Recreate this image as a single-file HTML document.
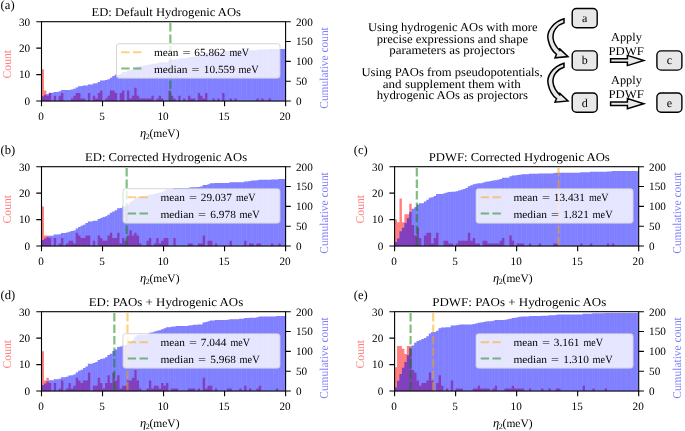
<!DOCTYPE html>
<html><head><meta charset="utf-8"><title>figure</title>
<style>
html,body{margin:0;padding:0;background:#fff;}
body{width:685px;height:431px;overflow:hidden;}
svg{display:block;font-family:"Liberation Serif",serif;text-rendering:geometricPrecision;will-change:transform;}
</style></head><body>
<svg width="685" height="431" viewBox="0 0 685 431">
<rect width="685" height="431" fill="#fff"/>
<g id="p0">
<clipPath id="cl0"><rect x="41.5" y="21.7" width="244.1" height="79.35"/></clipPath>
<g clip-path="url(#cl0)">
<path d="M41.5,101.05L41.5,69.31L43.94,69.31L43.94,90.47L46.38,90.47L46.38,95.76L48.82,95.76L48.82,93.11L51.26,93.11L51.26,101.05L53.7,101.05L53.7,95.76L56.15,95.76L56.15,101.05L58.59,101.05L58.59,95.76L61.03,95.76L61.03,93.11L63.47,93.11L63.47,101.05L65.91,101.05L65.91,101.05L68.35,101.05L68.35,101.05L70.79,101.05L70.79,98.41L73.23,98.41L73.23,95.76L75.67,95.76L75.67,93.11L78.12,93.11L78.11,93.11L80.56,93.11L80.56,98.41L83,98.41L83,98.41L85.44,98.41L85.44,101.05L87.88,101.05L87.88,93.11L90.32,93.11L90.32,101.05L92.76,101.05L92.76,95.76L95.2,95.76L95.2,98.41L97.64,98.41L97.64,93.11L100.08,93.11L100.08,90.47L102.53,90.47L102.53,101.05L104.97,101.05L104.97,98.41L107.41,98.41L107.41,95.76L109.85,95.76L109.85,90.47L112.29,90.47L112.29,90.47L114.73,90.47L114.73,93.11L117.17,93.11L117.17,101.05L119.61,101.05L119.61,93.11L122.05,93.11L122.05,90.47L124.49,90.47L124.49,101.05L126.94,101.05L126.93,90.47L129.38,90.47L129.38,98.41L131.82,98.41L131.82,95.76L134.26,95.76L134.26,87.83L136.7,87.83L136.7,95.76L139.14,95.76L139.14,98.41L141.58,98.41L141.58,98.41L144.02,98.41L144.02,98.41L146.46,98.41L146.46,98.41L148.9,98.41L148.9,98.41L151.34,98.41L151.34,95.76L153.79,95.76L153.79,101.05L156.23,101.05L156.23,98.41L158.67,98.41L158.67,95.76L161.11,95.76L161.11,98.41L163.55,98.41L163.55,101.05L165.99,101.05L165.99,101.05L168.43,101.05L168.43,90.47L170.87,90.47L170.87,95.76L173.31,95.76L173.31,98.41L175.75,98.41L175.75,101.05L178.2,101.05L178.2,95.76L180.64,95.76L180.64,101.05L183.08,101.05L183.08,98.41L185.52,98.41L185.52,101.05L187.96,101.05L187.96,95.76L190.4,95.76L190.4,98.41L192.84,98.41L192.84,98.41L195.28,98.41L195.28,101.05L197.72,101.05L197.72,93.11L200.16,93.11L200.16,95.76L202.61,95.76L202.61,98.41L205.05,98.41L205.05,93.11L207.49,93.11L207.49,101.05L209.93,101.05L209.93,101.05L212.37,101.05L212.37,98.41L214.81,98.41L214.81,101.05L217.25,101.05L217.25,98.41L219.69,98.41L219.69,101.05L222.13,101.05L222.13,93.11L224.57,93.11L224.57,101.05L227.02,101.05L227.02,101.05L229.46,101.05L229.46,98.41L231.9,98.41L231.9,101.05L234.34,101.05L234.34,98.41L236.78,98.41L236.78,101.05L239.22,101.05L239.22,101.05L241.66,101.05L241.66,101.05L244.1,101.05L244.1,101.05L246.54,101.05L246.54,101.05L248.98,101.05L248.98,101.05L251.43,101.05L251.43,101.05L253.87,101.05L253.87,101.05L256.31,101.05L256.31,98.41L258.75,98.41L258.75,101.05L261.19,101.05L261.19,98.41L263.63,98.41L263.63,101.05L266.07,101.05L266.07,101.05L268.51,101.05L268.51,98.41L270.95,98.41L270.95,101.05L273.39,101.05L273.39,101.05L275.84,101.05L275.84,101.05L278.28,101.05L278.28,101.05L280.72,101.05L280.72,101.05L283.16,101.05L283.16,101.05L285.6,101.05L285.6,101.05Z" fill="#f00" fill-opacity="0.5"/>
<path d="M41.5,101.05L41.5,96.29L43.94,96.29L43.94,94.7L46.38,94.7L46.38,93.91L48.82,93.91L48.82,92.72L51.26,92.72L51.26,92.72L53.7,92.72L53.7,91.92L56.15,91.92L56.15,91.92L58.59,91.92L58.59,91.13L61.03,91.13L61.03,89.94L63.47,89.94L63.47,89.94L65.91,89.94L65.91,89.94L68.35,89.94L68.35,89.94L70.79,89.94L70.79,89.54L73.23,89.54L73.23,88.75L75.67,88.75L75.67,87.56L78.12,87.56L78.11,86.37L80.56,86.37L80.56,85.97L83,85.97L83,85.58L85.44,85.58L85.44,85.58L87.88,85.58L87.88,84.39L90.32,84.39L90.32,84.39L92.76,84.39L92.76,83.59L95.2,83.59L95.2,83.2L97.64,83.2L97.64,82.01L100.08,82.01L100.08,80.42L102.53,80.42L102.53,80.42L104.97,80.42L104.97,80.02L107.41,80.02L107.41,79.23L109.85,79.23L109.85,77.64L112.29,77.64L112.29,76.05L114.73,76.05L114.73,74.86L117.17,74.86L117.17,74.86L119.61,74.86L119.61,73.67L122.05,73.67L122.05,72.09L124.49,72.09L124.49,72.09L126.94,72.09L126.93,70.5L129.38,70.5L129.38,70.1L131.82,70.1L131.82,69.31L134.26,69.31L134.26,67.33L136.7,67.33L136.7,66.53L139.14,66.53L139.14,66.14L141.58,66.14L141.58,65.74L144.02,65.74L144.02,65.34L146.46,65.34L146.46,64.95L148.9,64.95L148.9,64.55L151.34,64.55L151.34,63.76L153.79,63.76L153.79,63.76L156.23,63.76L156.23,63.36L158.67,63.36L158.67,62.57L161.11,62.57L161.11,62.17L163.55,62.17L163.55,62.17L165.99,62.17L165.99,62.17L168.43,62.17L168.43,60.58L170.87,60.58L170.87,59.79L173.31,59.79L173.31,59.39L175.75,59.39L175.75,59.39L178.2,59.39L178.2,58.6L180.64,58.6L180.64,58.6L183.08,58.6L183.08,58.2L185.52,58.2L185.52,58.2L187.96,58.2L187.96,57.41L190.4,57.41L190.4,57.01L192.84,57.01L192.84,56.61L195.28,56.61L195.28,56.61L197.72,56.61L197.72,55.42L200.16,55.42L200.16,54.63L202.61,54.63L202.61,54.23L205.05,54.23L205.05,53.04L207.49,53.04L207.49,53.04L209.93,53.04L209.93,53.04L212.37,53.04L212.37,52.65L214.81,52.65L214.81,52.65L217.25,52.65L217.25,52.25L219.69,52.25L219.69,52.25L222.13,52.25L222.13,51.06L224.57,51.06L224.57,51.06L227.02,51.06L227.02,51.06L229.46,51.06L229.46,50.66L231.9,50.66L231.9,50.66L234.34,50.66L234.34,50.27L236.78,50.27L236.78,50.27L239.22,50.27L239.22,50.27L241.66,50.27L241.66,50.27L244.1,50.27L244.1,50.27L246.54,50.27L246.54,50.27L248.98,50.27L248.98,50.27L251.43,50.27L251.43,50.27L253.87,50.27L253.87,50.27L256.31,50.27L256.31,49.87L258.75,49.87L258.75,49.87L261.19,49.87L261.19,49.47L263.63,49.47L263.63,49.47L266.07,49.47L266.07,49.47L268.51,49.47L268.51,49.08L270.95,49.08L270.95,49.08L273.39,49.08L273.39,49.08L275.84,49.08L275.84,49.08L278.28,49.08L278.28,49.08L280.72,49.08L280.72,49.08L283.16,49.08L283.16,49.08L285.6,49.08L285.6,101.05Z" fill="#00f" fill-opacity="0.2308"/>
<g fill="#00f" fill-opacity="0.35"><path d="M41.5,101.05V96.29H43.94V101.05z"/><path d="M43.94,101.05V94.7H46.38V101.05z"/><path d="M46.38,101.05V93.91H48.82V101.05z"/><path d="M48.82,101.05V92.72H51.26V101.05z"/><path d="M51.26,101.05V92.72H53.7V101.05z"/><path d="M53.7,101.05V91.92H56.15V101.05z"/><path d="M56.15,101.05V91.92H58.59V101.05z"/><path d="M58.59,101.05V91.13H61.03V101.05z"/><path d="M61.03,101.05V89.94H63.47V101.05z"/><path d="M63.47,101.05V89.94H65.91V101.05z"/><path d="M65.91,101.05V89.94H68.35V101.05z"/><path d="M68.35,101.05V89.94H70.79V101.05z"/><path d="M70.79,101.05V89.54H73.23V101.05z"/><path d="M73.23,101.05V88.75H75.67V101.05z"/><path d="M75.67,101.05V87.56H78.12V101.05z"/><path d="M78.11,101.05V86.37H80.56V101.05z"/><path d="M80.56,101.05V85.97H83V101.05z"/><path d="M83,101.05V85.58H85.44V101.05z"/><path d="M85.44,101.05V85.58H87.88V101.05z"/><path d="M87.88,101.05V84.39H90.32V101.05z"/><path d="M90.32,101.05V84.39H92.76V101.05z"/><path d="M92.76,101.05V83.59H95.2V101.05z"/><path d="M95.2,101.05V83.2H97.64V101.05z"/><path d="M97.64,101.05V82.01H100.08V101.05z"/><path d="M100.08,101.05V80.42H102.53V101.05z"/><path d="M102.53,101.05V80.42H104.97V101.05z"/><path d="M104.97,101.05V80.02H107.41V101.05z"/><path d="M107.41,101.05V79.23H109.85V101.05z"/><path d="M109.85,101.05V77.64H112.29V101.05z"/><path d="M112.29,101.05V76.05H114.73V101.05z"/><path d="M114.73,101.05V74.86H117.17V101.05z"/><path d="M117.17,101.05V74.86H119.61V101.05z"/><path d="M119.61,101.05V73.67H122.05V101.05z"/><path d="M122.05,101.05V72.09H124.49V101.05z"/><path d="M124.49,101.05V72.09H126.94V101.05z"/><path d="M126.93,101.05V70.5H129.38V101.05z"/><path d="M129.38,101.05V70.1H131.82V101.05z"/><path d="M131.82,101.05V69.31H134.26V101.05z"/><path d="M134.26,101.05V67.33H136.7V101.05z"/><path d="M136.7,101.05V66.53H139.14V101.05z"/><path d="M139.14,101.05V66.14H141.58V101.05z"/><path d="M141.58,101.05V65.74H144.02V101.05z"/><path d="M144.02,101.05V65.34H146.46V101.05z"/><path d="M146.46,101.05V64.95H148.9V101.05z"/><path d="M148.9,101.05V64.55H151.34V101.05z"/><path d="M151.34,101.05V63.76H153.79V101.05z"/><path d="M153.79,101.05V63.76H156.23V101.05z"/><path d="M156.23,101.05V63.36H158.67V101.05z"/><path d="M158.67,101.05V62.57H161.11V101.05z"/><path d="M161.11,101.05V62.17H163.55V101.05z"/><path d="M163.55,101.05V62.17H165.99V101.05z"/><path d="M165.99,101.05V62.17H168.43V101.05z"/><path d="M168.43,101.05V60.58H170.87V101.05z"/><path d="M170.87,101.05V59.79H173.31V101.05z"/><path d="M173.31,101.05V59.39H175.75V101.05z"/><path d="M175.75,101.05V59.39H178.2V101.05z"/><path d="M178.2,101.05V58.6H180.64V101.05z"/><path d="M180.64,101.05V58.6H183.08V101.05z"/><path d="M183.08,101.05V58.2H185.52V101.05z"/><path d="M185.52,101.05V58.2H187.96V101.05z"/><path d="M187.96,101.05V57.41H190.4V101.05z"/><path d="M190.4,101.05V57.01H192.84V101.05z"/><path d="M192.84,101.05V56.61H195.28V101.05z"/><path d="M195.28,101.05V56.61H197.72V101.05z"/><path d="M197.72,101.05V55.42H200.16V101.05z"/><path d="M200.16,101.05V54.63H202.61V101.05z"/><path d="M202.61,101.05V54.23H205.05V101.05z"/><path d="M205.05,101.05V53.04H207.49V101.05z"/><path d="M207.49,101.05V53.04H209.93V101.05z"/><path d="M209.93,101.05V53.04H212.37V101.05z"/><path d="M212.37,101.05V52.65H214.81V101.05z"/><path d="M214.81,101.05V52.65H217.25V101.05z"/><path d="M217.25,101.05V52.25H219.69V101.05z"/><path d="M219.69,101.05V52.25H222.13V101.05z"/><path d="M222.13,101.05V51.06H224.57V101.05z"/><path d="M224.57,101.05V51.06H227.02V101.05z"/><path d="M227.02,101.05V51.06H229.46V101.05z"/><path d="M229.46,101.05V50.66H231.9V101.05z"/><path d="M231.9,101.05V50.66H234.34V101.05z"/><path d="M234.34,101.05V50.27H236.78V101.05z"/><path d="M236.78,101.05V50.27H239.22V101.05z"/><path d="M239.22,101.05V50.27H241.66V101.05z"/><path d="M241.66,101.05V50.27H244.1V101.05z"/><path d="M244.1,101.05V50.27H246.54V101.05z"/><path d="M246.54,101.05V50.27H248.98V101.05z"/><path d="M248.98,101.05V50.27H251.43V101.05z"/><path d="M251.43,101.05V50.27H253.87V101.05z"/><path d="M253.87,101.05V50.27H256.31V101.05z"/><path d="M256.31,101.05V49.87H258.75V101.05z"/><path d="M258.75,101.05V49.87H261.19V101.05z"/><path d="M261.19,101.05V49.47H263.63V101.05z"/><path d="M263.63,101.05V49.47H266.07V101.05z"/><path d="M266.07,101.05V49.47H268.51V101.05z"/><path d="M268.51,101.05V49.08H270.95V101.05z"/><path d="M270.95,101.05V49.08H273.39V101.05z"/><path d="M273.39,101.05V49.08H275.84V101.05z"/><path d="M275.84,101.05V49.08H278.28V101.05z"/><path d="M278.28,101.05V49.08H280.72V101.05z"/><path d="M280.72,101.05V49.08H283.16V101.05z"/><path d="M283.16,101.05V49.08H285.6V101.05z"/></g>
<line x1="170.37" y1="101.05" x2="170.37" y2="21.7" stroke="#008000" stroke-opacity="0.5" stroke-width="2.2" stroke-dasharray="8.5 3" stroke-dashoffset="-0.6"/>
</g>
<rect x="41.5" y="21.7" width="244.1" height="79.35" fill="none" stroke="#000" stroke-width="1.1"/>
<text x="30.2" y="104.85" font-size="11.2" text-anchor="end" fill="#000">0</text>
<text x="30.2" y="78.4" font-size="11.2" text-anchor="end" fill="#000">10</text>
<text x="30.2" y="51.95" font-size="11.2" text-anchor="end" fill="#000">20</text>
<text x="30.2" y="25.5" font-size="11.2" text-anchor="end" fill="#000">30</text>
<text x="296" y="104.85" font-size="11.2" fill="#000">0</text>
<text x="296" y="85.01" font-size="11.2" fill="#000">50</text>
<text x="296" y="65.17" font-size="11.2" fill="#000">100</text>
<text x="296" y="45.34" font-size="11.2" fill="#000">150</text>
<text x="296" y="25.5" font-size="11.2" fill="#000">200</text>
<text x="41" y="119.75" font-size="11.2" text-anchor="middle" fill="#000">0</text>
<text x="102.03" y="119.75" font-size="11.2" text-anchor="middle" fill="#000">5</text>
<text x="163.05" y="119.75" font-size="11.2" text-anchor="middle" fill="#000">10</text>
<text x="224.07" y="119.75" font-size="11.2" text-anchor="middle" fill="#000">15</text>
<text x="285.1" y="119.75" font-size="11.2" text-anchor="middle" fill="#000">20</text>
<path d="M41.5,101.05h-5.2M41.5,74.6h-5.2M41.5,48.15h-5.2M41.5,21.7h-5.2M285.6,101.05h5.2M285.6,81.21h5.2M285.6,61.38h5.2M285.6,41.54h5.2M285.6,21.7h5.2M41.5,101.05v5.2M102.53,101.05v5.2M163.55,101.05v5.2M224.57,101.05v5.2M285.6,101.05v5.2" stroke="#000" stroke-width="1.1" fill="none"/>
<text x="91.5" y="16.3" font-size="12" textLength="149.5" lengthAdjust="spacingAndGlyphs" fill="#000">ED: Default Hydrogenic AOs</text>
<text x="0.6" y="8.9" font-size="12.6" fill="#000">(a)</text>
<text x="139.95" y="136.95" font-size="11.5"><tspan font-style="italic" font-size="12.5">η</tspan><tspan font-size="8" dy="1.6" dx="-0.4">2</tspan><tspan dy="-1.6" dx="-0.3">(meV)</tspan></text>
<text transform="translate(10.7,64.15) rotate(-90)" font-size="12" text-anchor="middle" fill="#ff8080" textLength="28.5" lengthAdjust="spacingAndGlyphs">Count</text>
<text transform="translate(328.2,67.95) rotate(-90)" font-size="12" text-anchor="middle" fill="#8080ff" textLength="81.5" lengthAdjust="spacingAndGlyphs">Cumulative count</text>
<rect x="116.5" y="43.7" width="163.5" height="34.5" rx="2.4" fill="#fff" fill-opacity="0.8" stroke="#ccc" stroke-opacity="0.8" stroke-width="1"/>
<line x1="121.2" y1="52.15" x2="144.8" y2="52.15" stroke="#ffa500" stroke-opacity="0.5" stroke-width="2" stroke-dasharray="8.4 3.4"/>
<line x1="121.2" y1="68.4" x2="144.8" y2="68.4" stroke="#008000" stroke-opacity="0.5" stroke-width="2" stroke-dasharray="8.4 3.4"/>
<text x="153.9" y="56.4" font-size="11" textLength="24.5" lengthAdjust="spacingAndGlyphs" fill="#000">mean</text>
<text x="182.4" y="56.4" font-size="11" textLength="8" lengthAdjust="spacingAndGlyphs" fill="#000">=</text>
<text x="194.3" y="56.4" font-size="11" textLength="31" lengthAdjust="spacingAndGlyphs" fill="#000">65.862</text>
<text x="229.5" y="56.4" font-size="11" textLength="19.5" lengthAdjust="spacingAndGlyphs" fill="#000">meV</text>
<text x="153.9" y="72.7" font-size="11" textLength="33.7" lengthAdjust="spacingAndGlyphs" fill="#000">median</text>
<text x="191.4" y="72.7" font-size="11" textLength="8" lengthAdjust="spacingAndGlyphs" fill="#000">=</text>
<text x="203.8" y="72.7" font-size="11" textLength="31" lengthAdjust="spacingAndGlyphs" fill="#000">10.559</text>
<text x="238.6" y="72.7" font-size="11" textLength="20" lengthAdjust="spacingAndGlyphs" fill="#000">meV</text>
</g>
<g id="p1">
<clipPath id="cl1"><rect x="41.5" y="166.7" width="244.1" height="79.35"/></clipPath>
<g clip-path="url(#cl1)">
<path d="M41.5,246.05L41.5,206.38L43.94,206.38L43.94,235.47L46.38,235.47L46.38,235.47L48.82,235.47L48.82,238.11L51.26,238.11L51.26,246.05L53.7,246.05L53.7,238.11L56.15,238.11L56.15,246.05L58.59,246.05L58.59,243.4L61.03,243.4L61.03,238.11L63.47,238.11L63.47,246.05L65.91,246.05L65.91,243.4L68.35,243.4L68.35,240.76L70.79,240.76L70.79,240.76L73.23,240.76L73.23,243.4L75.67,243.4L75.67,232.82L78.12,232.82L78.11,235.47L80.56,235.47L80.56,238.11L83,238.11L83,238.11L85.44,238.11L85.44,235.47L87.88,235.47L87.88,235.47L90.32,235.47L90.32,246.05L92.76,246.05L92.76,240.76L95.2,240.76L95.2,246.05L97.64,246.05L97.64,235.47L100.08,235.47L100.08,238.11L102.53,238.11L102.53,240.76L104.97,240.76L104.97,240.76L107.41,240.76L107.41,235.47L109.85,235.47L109.85,232.82L112.29,232.82L112.29,238.11L114.73,238.11L114.73,238.11L117.17,238.11L117.17,232.82L119.61,232.82L119.61,243.4L122.05,243.4L122.05,238.11L124.49,238.11L124.49,240.76L126.94,240.76L126.93,235.47L129.38,235.47L129.38,230.18L131.82,230.18L131.82,235.47L134.26,235.47L134.26,232.82L136.7,232.82L136.7,235.47L139.14,235.47L139.14,243.4L141.58,243.4L141.58,246.05L144.02,246.05L144.02,246.05L146.46,246.05L146.46,240.76L148.9,240.76L148.9,238.11L151.34,238.11L151.34,246.05L153.79,246.05L153.79,243.4L156.23,243.4L156.23,238.11L158.67,238.11L158.67,243.4L161.11,243.4L161.11,240.76L163.55,240.76L163.55,238.11L165.99,238.11L165.99,238.11L168.43,238.11L168.43,246.05L170.87,246.05L170.87,246.05L173.31,246.05L173.31,238.11L175.75,238.11L175.75,246.05L178.2,246.05L178.2,246.05L180.64,246.05L180.64,246.05L183.08,246.05L183.08,246.05L185.52,246.05L185.52,246.05L187.96,246.05L187.96,243.4L190.4,243.4L190.4,243.4L192.84,243.4L192.84,246.05L195.28,246.05L195.28,246.05L197.72,246.05L197.72,243.4L200.16,243.4L200.16,243.4L202.61,243.4L202.61,235.47L205.05,235.47L205.05,246.05L207.49,246.05L207.49,240.76L209.93,240.76L209.93,240.76L212.37,240.76L212.37,246.05L214.81,246.05L214.81,243.4L217.25,243.4L217.25,246.05L219.69,246.05L219.69,246.05L222.13,246.05L222.13,246.05L224.57,246.05L224.57,246.05L227.02,246.05L227.02,246.05L229.46,246.05L229.46,240.76L231.9,240.76L231.9,246.05L234.34,246.05L234.34,246.05L236.78,246.05L236.78,246.05L239.22,246.05L239.22,246.05L241.66,246.05L241.66,246.05L244.1,246.05L244.1,240.76L246.54,240.76L246.54,246.05L248.98,246.05L248.98,243.4L251.43,243.4L251.43,243.4L253.87,243.4L253.87,246.05L256.31,246.05L256.31,243.4L258.75,243.4L258.75,243.4L261.19,243.4L261.19,246.05L263.63,246.05L263.63,246.05L266.07,246.05L266.07,246.05L268.51,246.05L268.51,246.05L270.95,246.05L270.95,243.4L273.39,243.4L273.39,246.05L275.84,246.05L275.84,246.05L278.28,246.05L278.28,243.4L280.72,243.4L280.72,246.05L283.16,246.05L283.16,246.05L285.6,246.05L285.6,246.05Z" fill="#f00" fill-opacity="0.5"/>
<path d="M41.5,246.05L41.5,240.1L43.94,240.1L43.94,238.51L46.38,238.51L46.38,236.92L48.82,236.92L48.82,235.73L51.26,235.73L51.26,235.73L53.7,235.73L53.7,234.54L56.15,234.54L56.15,234.54L58.59,234.54L58.59,234.15L61.03,234.15L61.03,232.96L63.47,232.96L63.47,232.96L65.91,232.96L65.91,232.56L68.35,232.56L68.35,231.77L70.79,231.77L70.79,230.97L73.23,230.97L73.23,230.58L75.67,230.58L75.67,228.59L78.12,228.59L78.11,227.01L80.56,227.01L80.56,225.82L83,225.82L83,224.63L85.44,224.63L85.44,223.04L87.88,223.04L87.88,221.45L90.32,221.45L90.32,221.45L92.76,221.45L92.76,220.66L95.2,220.66L95.2,220.66L97.64,220.66L97.64,219.07L100.08,219.07L100.08,217.88L102.53,217.88L102.53,217.09L104.97,217.09L104.97,216.29L107.41,216.29L107.41,214.71L109.85,214.71L109.85,212.72L112.29,212.72L112.29,211.53L114.73,211.53L114.73,210.34L117.17,210.34L117.17,208.36L119.61,208.36L119.61,207.96L122.05,207.96L122.05,206.77L124.49,206.77L124.49,205.98L126.94,205.98L126.93,204.39L129.38,204.39L129.38,202.01L131.82,202.01L131.82,200.42L134.26,200.42L134.26,198.44L136.7,198.44L136.7,196.85L139.14,196.85L139.14,196.46L141.58,196.46L141.58,196.46L144.02,196.46L144.02,196.46L146.46,196.46L146.46,195.66L148.9,195.66L148.9,194.47L151.34,194.47L151.34,194.47L153.79,194.47L153.79,194.08L156.23,194.08L156.23,192.89L158.67,192.89L158.67,192.49L161.11,192.49L161.11,191.7L163.55,191.7L163.55,190.5L165.99,190.5L165.99,189.31L168.43,189.31L168.43,189.31L170.87,189.31L170.87,189.31L173.31,189.31L173.31,188.12L175.75,188.12L175.75,188.12L178.2,188.12L178.2,188.12L180.64,188.12L180.64,188.12L183.08,188.12L183.08,188.12L185.52,188.12L185.52,188.12L187.96,188.12L187.96,187.73L190.4,187.73L190.4,187.33L192.84,187.33L192.84,187.33L195.28,187.33L195.28,187.33L197.72,187.33L197.72,186.93L200.16,186.93L200.16,186.54L202.61,186.54L202.61,184.95L205.05,184.95L205.05,184.95L207.49,184.95L207.49,184.16L209.93,184.16L209.93,183.36L212.37,183.36L212.37,183.36L214.81,183.36L214.81,182.97L217.25,182.97L217.25,182.97L219.69,182.97L219.69,182.97L222.13,182.97L222.13,182.97L224.57,182.97L224.57,182.97L227.02,182.97L227.02,182.97L229.46,182.97L229.46,182.17L231.9,182.17L231.9,182.17L234.34,182.17L234.34,182.17L236.78,182.17L236.78,182.17L239.22,182.17L239.22,182.17L241.66,182.17L241.66,182.17L244.1,182.17L244.1,181.38L246.54,181.38L246.54,181.38L248.98,181.38L248.98,180.98L251.43,180.98L251.43,180.59L253.87,180.59L253.87,180.59L256.31,180.59L256.31,180.19L258.75,180.19L258.75,179.79L261.19,179.79L261.19,179.79L263.63,179.79L263.63,179.79L266.07,179.79L266.07,179.79L268.51,179.79L268.51,179.79L270.95,179.79L270.95,179.4L273.39,179.4L273.39,179.4L275.84,179.4L275.84,179.4L278.28,179.4L278.28,179L280.72,179L280.72,179L283.16,179L283.16,179L285.6,179L285.6,246.05Z" fill="#00f" fill-opacity="0.2308"/>
<g fill="#00f" fill-opacity="0.35"><path d="M41.5,246.05V240.1H43.94V246.05z"/><path d="M43.94,246.05V238.51H46.38V246.05z"/><path d="M46.38,246.05V236.92H48.82V246.05z"/><path d="M48.82,246.05V235.73H51.26V246.05z"/><path d="M51.26,246.05V235.73H53.7V246.05z"/><path d="M53.7,246.05V234.54H56.15V246.05z"/><path d="M56.15,246.05V234.54H58.59V246.05z"/><path d="M58.59,246.05V234.15H61.03V246.05z"/><path d="M61.03,246.05V232.96H63.47V246.05z"/><path d="M63.47,246.05V232.96H65.91V246.05z"/><path d="M65.91,246.05V232.56H68.35V246.05z"/><path d="M68.35,246.05V231.77H70.79V246.05z"/><path d="M70.79,246.05V230.97H73.23V246.05z"/><path d="M73.23,246.05V230.58H75.67V246.05z"/><path d="M75.67,246.05V228.59H78.12V246.05z"/><path d="M78.11,246.05V227.01H80.56V246.05z"/><path d="M80.56,246.05V225.82H83V246.05z"/><path d="M83,246.05V224.63H85.44V246.05z"/><path d="M85.44,246.05V223.04H87.88V246.05z"/><path d="M87.88,246.05V221.45H90.32V246.05z"/><path d="M90.32,246.05V221.45H92.76V246.05z"/><path d="M92.76,246.05V220.66H95.2V246.05z"/><path d="M95.2,246.05V220.66H97.64V246.05z"/><path d="M97.64,246.05V219.07H100.08V246.05z"/><path d="M100.08,246.05V217.88H102.53V246.05z"/><path d="M102.53,246.05V217.09H104.97V246.05z"/><path d="M104.97,246.05V216.29H107.41V246.05z"/><path d="M107.41,246.05V214.71H109.85V246.05z"/><path d="M109.85,246.05V212.72H112.29V246.05z"/><path d="M112.29,246.05V211.53H114.73V246.05z"/><path d="M114.73,246.05V210.34H117.17V246.05z"/><path d="M117.17,246.05V208.36H119.61V246.05z"/><path d="M119.61,246.05V207.96H122.05V246.05z"/><path d="M122.05,246.05V206.77H124.49V246.05z"/><path d="M124.49,246.05V205.98H126.94V246.05z"/><path d="M126.93,246.05V204.39H129.38V246.05z"/><path d="M129.38,246.05V202.01H131.82V246.05z"/><path d="M131.82,246.05V200.42H134.26V246.05z"/><path d="M134.26,246.05V198.44H136.7V246.05z"/><path d="M136.7,246.05V196.85H139.14V246.05z"/><path d="M139.14,246.05V196.46H141.58V246.05z"/><path d="M141.58,246.05V196.46H144.02V246.05z"/><path d="M144.02,246.05V196.46H146.46V246.05z"/><path d="M146.46,246.05V195.66H148.9V246.05z"/><path d="M148.9,246.05V194.47H151.34V246.05z"/><path d="M151.34,246.05V194.47H153.79V246.05z"/><path d="M153.79,246.05V194.08H156.23V246.05z"/><path d="M156.23,246.05V192.89H158.67V246.05z"/><path d="M158.67,246.05V192.49H161.11V246.05z"/><path d="M161.11,246.05V191.7H163.55V246.05z"/><path d="M163.55,246.05V190.5H165.99V246.05z"/><path d="M165.99,246.05V189.31H168.43V246.05z"/><path d="M168.43,246.05V189.31H170.87V246.05z"/><path d="M170.87,246.05V189.31H173.31V246.05z"/><path d="M173.31,246.05V188.12H175.75V246.05z"/><path d="M175.75,246.05V188.12H178.2V246.05z"/><path d="M178.2,246.05V188.12H180.64V246.05z"/><path d="M180.64,246.05V188.12H183.08V246.05z"/><path d="M183.08,246.05V188.12H185.52V246.05z"/><path d="M185.52,246.05V188.12H187.96V246.05z"/><path d="M187.96,246.05V187.73H190.4V246.05z"/><path d="M190.4,246.05V187.33H192.84V246.05z"/><path d="M192.84,246.05V187.33H195.28V246.05z"/><path d="M195.28,246.05V187.33H197.72V246.05z"/><path d="M197.72,246.05V186.93H200.16V246.05z"/><path d="M200.16,246.05V186.54H202.61V246.05z"/><path d="M202.61,246.05V184.95H205.05V246.05z"/><path d="M205.05,246.05V184.95H207.49V246.05z"/><path d="M207.49,246.05V184.16H209.93V246.05z"/><path d="M209.93,246.05V183.36H212.37V246.05z"/><path d="M212.37,246.05V183.36H214.81V246.05z"/><path d="M214.81,246.05V182.97H217.25V246.05z"/><path d="M217.25,246.05V182.97H219.69V246.05z"/><path d="M219.69,246.05V182.97H222.13V246.05z"/><path d="M222.13,246.05V182.97H224.57V246.05z"/><path d="M224.57,246.05V182.97H227.02V246.05z"/><path d="M227.02,246.05V182.97H229.46V246.05z"/><path d="M229.46,246.05V182.17H231.9V246.05z"/><path d="M231.9,246.05V182.17H234.34V246.05z"/><path d="M234.34,246.05V182.17H236.78V246.05z"/><path d="M236.78,246.05V182.17H239.22V246.05z"/><path d="M239.22,246.05V182.17H241.66V246.05z"/><path d="M241.66,246.05V182.17H244.1V246.05z"/><path d="M244.1,246.05V181.38H246.54V246.05z"/><path d="M246.54,246.05V181.38H248.98V246.05z"/><path d="M248.98,246.05V180.98H251.43V246.05z"/><path d="M251.43,246.05V180.59H253.87V246.05z"/><path d="M253.87,246.05V180.59H256.31V246.05z"/><path d="M256.31,246.05V180.19H258.75V246.05z"/><path d="M258.75,246.05V179.79H261.19V246.05z"/><path d="M261.19,246.05V179.79H263.63V246.05z"/><path d="M263.63,246.05V179.79H266.07V246.05z"/><path d="M266.07,246.05V179.79H268.51V246.05z"/><path d="M268.51,246.05V179.79H270.95V246.05z"/><path d="M270.95,246.05V179.4H273.39V246.05z"/><path d="M273.39,246.05V179.4H275.84V246.05z"/><path d="M275.84,246.05V179.4H278.28V246.05z"/><path d="M278.28,246.05V179H280.72V246.05z"/><path d="M280.72,246.05V179H283.16V246.05z"/><path d="M283.16,246.05V179H285.6V246.05z"/></g>
<line x1="126.67" y1="246.05" x2="126.67" y2="166.7" stroke="#008000" stroke-opacity="0.5" stroke-width="2.2" stroke-dasharray="8.5 3" stroke-dashoffset="-0.6"/>
</g>
<rect x="41.5" y="166.7" width="244.1" height="79.35" fill="none" stroke="#000" stroke-width="1.1"/>
<text x="30.2" y="249.85" font-size="11.2" text-anchor="end" fill="#000">0</text>
<text x="30.2" y="223.4" font-size="11.2" text-anchor="end" fill="#000">10</text>
<text x="30.2" y="196.95" font-size="11.2" text-anchor="end" fill="#000">20</text>
<text x="30.2" y="170.5" font-size="11.2" text-anchor="end" fill="#000">30</text>
<text x="296" y="249.85" font-size="11.2" fill="#000">0</text>
<text x="296" y="230.01" font-size="11.2" fill="#000">50</text>
<text x="296" y="210.18" font-size="11.2" fill="#000">100</text>
<text x="296" y="190.34" font-size="11.2" fill="#000">150</text>
<text x="296" y="170.5" font-size="11.2" fill="#000">200</text>
<text x="41" y="264.75" font-size="11.2" text-anchor="middle" fill="#000">0</text>
<text x="102.03" y="264.75" font-size="11.2" text-anchor="middle" fill="#000">5</text>
<text x="163.05" y="264.75" font-size="11.2" text-anchor="middle" fill="#000">10</text>
<text x="224.07" y="264.75" font-size="11.2" text-anchor="middle" fill="#000">15</text>
<text x="285.1" y="264.75" font-size="11.2" text-anchor="middle" fill="#000">20</text>
<path d="M41.5,246.05h-5.2M41.5,219.6h-5.2M41.5,193.15h-5.2M41.5,166.7h-5.2M285.6,246.05h5.2M285.6,226.21h5.2M285.6,206.38h5.2M285.6,186.54h5.2M285.6,166.7h5.2M41.5,246.05v5.2M102.53,246.05v5.2M163.55,246.05v5.2M224.57,246.05v5.2M285.6,246.05v5.2" stroke="#000" stroke-width="1.1" fill="none"/>
<text x="85" y="161.3" font-size="12" textLength="162.1" lengthAdjust="spacingAndGlyphs" fill="#000">ED: Corrected Hydrogenic AOs</text>
<text x="0.6" y="153.9" font-size="12.6" fill="#000">(b)</text>
<text x="139.95" y="281.95" font-size="11.5"><tspan font-style="italic" font-size="12.5">η</tspan><tspan font-size="8" dy="1.6" dx="-0.4">2</tspan><tspan dy="-1.6" dx="-0.3">(meV)</tspan></text>
<text transform="translate(10.7,209.15) rotate(-90)" font-size="12" text-anchor="middle" fill="#ff8080" textLength="28.5" lengthAdjust="spacingAndGlyphs">Count</text>
<text transform="translate(328.2,212.95) rotate(-90)" font-size="12" text-anchor="middle" fill="#8080ff" textLength="81.5" lengthAdjust="spacingAndGlyphs">Cumulative count</text>
<rect x="123" y="188.7" width="157" height="34.5" rx="2.4" fill="#fff" fill-opacity="0.8" stroke="#ccc" stroke-opacity="0.8" stroke-width="1"/>
<line x1="127.7" y1="197.15" x2="151.3" y2="197.15" stroke="#ffa500" stroke-opacity="0.5" stroke-width="2" stroke-dasharray="8.4 3.4"/>
<line x1="127.7" y1="213.4" x2="151.3" y2="213.4" stroke="#008000" stroke-opacity="0.5" stroke-width="2" stroke-dasharray="8.4 3.4"/>
<text x="160.4" y="201.4" font-size="11" textLength="24.5" lengthAdjust="spacingAndGlyphs" fill="#000">mean</text>
<text x="188.9" y="201.4" font-size="11" textLength="8" lengthAdjust="spacingAndGlyphs" fill="#000">=</text>
<text x="200.8" y="201.4" font-size="11" textLength="31" lengthAdjust="spacingAndGlyphs" fill="#000">29.037</text>
<text x="236" y="201.4" font-size="11" textLength="19.5" lengthAdjust="spacingAndGlyphs" fill="#000">meV</text>
<text x="160.4" y="217.7" font-size="11" textLength="33.7" lengthAdjust="spacingAndGlyphs" fill="#000">median</text>
<text x="197.9" y="217.7" font-size="11" textLength="8" lengthAdjust="spacingAndGlyphs" fill="#000">=</text>
<text x="210.3" y="217.7" font-size="11" textLength="25.5" lengthAdjust="spacingAndGlyphs" fill="#000">6.978</text>
<text x="239.6" y="217.7" font-size="11" textLength="20" lengthAdjust="spacingAndGlyphs" fill="#000">meV</text>
</g>
<g id="p2">
<clipPath id="cl2"><rect x="394.6" y="166.7" width="244.1" height="79.35"/></clipPath>
<g clip-path="url(#cl2)">
<path d="M394.6,246.05L394.6,219.6L397.04,219.6L397.04,222.24L399.48,222.24L399.48,198.44L401.92,198.44L401.92,222.24L404.36,222.24L404.36,214.31L406.81,214.31L406.81,214.31L409.25,214.31L409.25,203.73L411.69,203.73L411.69,224.89L414.13,224.89L414.13,235.47L416.57,235.47L416.57,227.53L419.01,227.53L419.01,238.11L421.45,238.11L421.45,246.05L423.89,246.05L423.89,235.47L426.33,235.47L426.33,232.82L428.77,232.82L428.77,232.82L431.21,232.82L431.22,243.4L433.66,243.4L433.66,238.11L436.1,238.11L436.1,232.82L438.54,232.82L438.54,246.05L440.98,246.05L440.98,246.05L443.42,246.05L443.42,240.76L445.86,240.76L445.86,240.76L448.3,240.76L448.3,243.4L450.74,243.4L450.74,243.4L453.18,243.4L453.18,246.05L455.62,246.05L455.62,243.4L458.07,243.4L458.07,240.76L460.51,240.76L460.51,240.76L462.95,240.76L462.95,240.76L465.39,240.76L465.39,240.76L467.83,240.76L467.83,232.82L470.27,232.82L470.27,240.76L472.71,240.76L472.71,238.11L475.15,238.11L475.15,243.4L477.59,243.4L477.59,243.4L480.04,243.4L480.04,246.05L482.48,246.05L482.48,240.76L484.92,240.76L484.92,240.76L487.36,240.76L487.36,243.4L489.8,243.4L489.8,243.4L492.24,243.4L492.24,243.4L494.68,243.4L494.68,243.4L497.12,243.4L497.12,243.4L499.56,243.4L499.56,240.76L502,240.76L502,238.11L504.44,238.11L504.45,246.05L506.89,246.05L506.89,246.05L509.33,246.05L509.33,235.47L511.77,235.47L511.77,240.76L514.21,240.76L514.21,246.05L516.65,246.05L516.65,243.4L519.09,243.4L519.09,243.4L521.53,243.4L521.53,243.4L523.97,243.4L523.97,246.05L526.41,246.05L526.41,246.05L528.86,246.05L528.86,243.4L531.3,243.4L531.3,246.05L533.74,246.05L533.74,246.05L536.18,246.05L536.18,246.05L538.62,246.05L538.62,243.4L541.06,243.4L541.06,246.05L543.5,246.05L543.5,246.05L545.94,246.05L545.94,246.05L548.38,246.05L548.38,246.05L550.82,246.05L550.82,246.05L553.27,246.05L553.26,243.4L555.71,243.4L555.71,243.4L558.15,243.4L558.15,246.05L560.59,246.05L560.59,246.05L563.03,246.05L563.03,246.05L565.47,246.05L565.47,246.05L567.91,246.05L567.91,246.05L570.35,246.05L570.35,246.05L572.79,246.05L572.79,246.05L575.23,246.05L575.23,246.05L577.68,246.05L577.67,246.05L580.12,246.05L580.12,243.4L582.56,243.4L582.56,246.05L585,246.05L585,246.05L587.44,246.05L587.44,246.05L589.88,246.05L589.88,243.4L592.32,243.4L592.32,246.05L594.76,246.05L594.76,246.05L597.2,246.05L597.2,246.05L599.64,246.05L599.64,246.05L602.09,246.05L602.09,246.05L604.53,246.05L604.53,246.05L606.97,246.05L606.97,243.4L609.41,243.4L609.41,246.05L611.85,246.05L611.85,243.4L614.29,243.4L614.29,246.05L616.73,246.05L616.73,246.05L619.17,246.05L619.17,246.05L621.61,246.05L621.61,246.05L624.05,246.05L624.05,246.05L626.5,246.05L626.5,246.05L628.94,246.05L628.94,246.05L631.38,246.05L631.38,246.05L633.82,246.05L633.82,246.05L636.26,246.05L636.26,246.05L638.7,246.05L638.7,246.05Z" fill="#f00" fill-opacity="0.5"/>
<path d="M394.6,246.05L394.6,242.08L397.04,242.08L397.04,238.51L399.48,238.51L399.48,231.37L401.92,231.37L401.92,227.8L404.36,227.8L404.36,223.04L406.81,223.04L406.81,218.28L409.25,218.28L409.25,211.93L411.69,211.93L411.69,208.76L414.13,208.76L414.13,207.17L416.57,207.17L416.57,204.39L419.01,204.39L419.01,203.2L421.45,203.2L421.45,203.2L423.89,203.2L423.89,201.61L426.33,201.61L426.33,199.63L428.77,199.63L428.77,197.65L431.21,197.65L431.22,197.25L433.66,197.25L433.66,196.06L436.1,196.06L436.1,194.08L438.54,194.08L438.54,194.08L440.98,194.08L440.98,194.08L443.42,194.08L443.42,193.28L445.86,193.28L445.86,192.49L448.3,192.49L448.3,192.09L450.74,192.09L450.74,191.7L453.18,191.7L453.18,191.7L455.62,191.7L455.62,191.3L458.07,191.3L458.07,190.5L460.51,190.5L460.51,189.71L462.95,189.71L462.95,188.92L465.39,188.92L465.39,188.12L467.83,188.12L467.83,186.14L470.27,186.14L470.27,185.35L472.71,185.35L472.71,184.16L475.15,184.16L475.15,183.76L477.59,183.76L477.59,183.36L480.04,183.36L480.04,183.36L482.48,183.36L482.48,182.57L484.92,182.57L484.92,181.78L487.36,181.78L487.36,181.38L489.8,181.38L489.8,180.98L492.24,180.98L492.24,180.59L494.68,180.59L494.68,180.19L497.12,180.19L497.12,179.79L499.56,179.79L499.56,179L502,179L502,177.81L504.44,177.81L504.45,177.81L506.89,177.81L506.89,177.81L509.33,177.81L509.33,176.22L511.77,176.22L511.77,175.43L514.21,175.43L514.21,175.43L516.65,175.43L516.65,175.03L519.09,175.03L519.09,174.63L521.53,174.63L521.53,174.24L523.97,174.24L523.97,174.24L526.41,174.24L526.41,174.24L528.86,174.24L528.86,173.84L531.3,173.84L531.3,173.84L533.74,173.84L533.74,173.84L536.18,173.84L536.18,173.84L538.62,173.84L538.62,173.44L541.06,173.44L541.06,173.44L543.5,173.44L543.5,173.44L545.94,173.44L545.94,173.44L548.38,173.44L548.38,173.44L550.82,173.44L550.82,173.44L553.27,173.44L553.26,173.05L555.71,173.05L555.71,172.65L558.15,172.65L558.15,172.65L560.59,172.65L560.59,172.65L563.03,172.65L563.03,172.65L565.47,172.65L565.47,172.65L567.91,172.65L567.91,172.65L570.35,172.65L570.35,172.65L572.79,172.65L572.79,172.65L575.23,172.65L575.23,172.65L577.68,172.65L577.67,172.65L580.12,172.65L580.12,172.25L582.56,172.25L582.56,172.25L585,172.25L585,172.25L587.44,172.25L587.44,172.25L589.88,172.25L589.88,171.86L592.32,171.86L592.32,171.86L594.76,171.86L594.76,171.86L597.2,171.86L597.2,171.86L599.64,171.86L599.64,171.86L602.09,171.86L602.09,171.86L604.53,171.86L604.53,171.86L606.97,171.86L606.97,171.46L609.41,171.46L609.41,171.46L611.85,171.46L611.85,171.06L614.29,171.06L614.29,171.06L616.73,171.06L616.73,171.06L619.17,171.06L619.17,171.06L621.61,171.06L621.61,171.06L624.05,171.06L624.05,171.06L626.5,171.06L626.5,171.06L628.94,171.06L628.94,171.06L631.38,171.06L631.38,171.06L633.82,171.06L633.82,171.06L636.26,171.06L636.26,171.06L638.7,171.06L638.7,246.05Z" fill="#00f" fill-opacity="0.2308"/>
<g fill="#00f" fill-opacity="0.35"><path d="M394.6,246.05V242.08H397.04V246.05z"/><path d="M397.04,246.05V238.51H399.48V246.05z"/><path d="M399.48,246.05V231.37H401.92V246.05z"/><path d="M401.92,246.05V227.8H404.36V246.05z"/><path d="M404.36,246.05V223.04H406.81V246.05z"/><path d="M406.81,246.05V218.28H409.25V246.05z"/><path d="M409.25,246.05V211.93H411.69V246.05z"/><path d="M411.69,246.05V208.76H414.13V246.05z"/><path d="M414.13,246.05V207.17H416.57V246.05z"/><path d="M416.57,246.05V204.39H419.01V246.05z"/><path d="M419.01,246.05V203.2H421.45V246.05z"/><path d="M421.45,246.05V203.2H423.89V246.05z"/><path d="M423.89,246.05V201.61H426.33V246.05z"/><path d="M426.33,246.05V199.63H428.77V246.05z"/><path d="M428.77,246.05V197.65H431.21V246.05z"/><path d="M431.22,246.05V197.25H433.66V246.05z"/><path d="M433.66,246.05V196.06H436.1V246.05z"/><path d="M436.1,246.05V194.08H438.54V246.05z"/><path d="M438.54,246.05V194.08H440.98V246.05z"/><path d="M440.98,246.05V194.08H443.42V246.05z"/><path d="M443.42,246.05V193.28H445.86V246.05z"/><path d="M445.86,246.05V192.49H448.3V246.05z"/><path d="M448.3,246.05V192.09H450.74V246.05z"/><path d="M450.74,246.05V191.7H453.18V246.05z"/><path d="M453.18,246.05V191.7H455.62V246.05z"/><path d="M455.62,246.05V191.3H458.07V246.05z"/><path d="M458.07,246.05V190.5H460.51V246.05z"/><path d="M460.51,246.05V189.71H462.95V246.05z"/><path d="M462.95,246.05V188.92H465.39V246.05z"/><path d="M465.39,246.05V188.12H467.83V246.05z"/><path d="M467.83,246.05V186.14H470.27V246.05z"/><path d="M470.27,246.05V185.35H472.71V246.05z"/><path d="M472.71,246.05V184.16H475.15V246.05z"/><path d="M475.15,246.05V183.76H477.59V246.05z"/><path d="M477.59,246.05V183.36H480.04V246.05z"/><path d="M480.04,246.05V183.36H482.48V246.05z"/><path d="M482.48,246.05V182.57H484.92V246.05z"/><path d="M484.92,246.05V181.78H487.36V246.05z"/><path d="M487.36,246.05V181.38H489.8V246.05z"/><path d="M489.8,246.05V180.98H492.24V246.05z"/><path d="M492.24,246.05V180.59H494.68V246.05z"/><path d="M494.68,246.05V180.19H497.12V246.05z"/><path d="M497.12,246.05V179.79H499.56V246.05z"/><path d="M499.56,246.05V179H502V246.05z"/><path d="M502,246.05V177.81H504.44V246.05z"/><path d="M504.45,246.05V177.81H506.89V246.05z"/><path d="M506.89,246.05V177.81H509.33V246.05z"/><path d="M509.33,246.05V176.22H511.77V246.05z"/><path d="M511.77,246.05V175.43H514.21V246.05z"/><path d="M514.21,246.05V175.43H516.65V246.05z"/><path d="M516.65,246.05V175.03H519.09V246.05z"/><path d="M519.09,246.05V174.63H521.53V246.05z"/><path d="M521.53,246.05V174.24H523.97V246.05z"/><path d="M523.97,246.05V174.24H526.41V246.05z"/><path d="M526.41,246.05V174.24H528.86V246.05z"/><path d="M528.86,246.05V173.84H531.3V246.05z"/><path d="M531.3,246.05V173.84H533.74V246.05z"/><path d="M533.74,246.05V173.84H536.18V246.05z"/><path d="M536.18,246.05V173.84H538.62V246.05z"/><path d="M538.62,246.05V173.44H541.06V246.05z"/><path d="M541.06,246.05V173.44H543.5V246.05z"/><path d="M543.5,246.05V173.44H545.94V246.05z"/><path d="M545.94,246.05V173.44H548.38V246.05z"/><path d="M548.38,246.05V173.44H550.82V246.05z"/><path d="M550.82,246.05V173.44H553.27V246.05z"/><path d="M553.26,246.05V173.05H555.71V246.05z"/><path d="M555.71,246.05V172.65H558.15V246.05z"/><path d="M558.15,246.05V172.65H560.59V246.05z"/><path d="M560.59,246.05V172.65H563.03V246.05z"/><path d="M563.03,246.05V172.65H565.47V246.05z"/><path d="M565.47,246.05V172.65H567.91V246.05z"/><path d="M567.91,246.05V172.65H570.35V246.05z"/><path d="M570.35,246.05V172.65H572.79V246.05z"/><path d="M572.79,246.05V172.65H575.23V246.05z"/><path d="M575.23,246.05V172.65H577.68V246.05z"/><path d="M577.67,246.05V172.65H580.12V246.05z"/><path d="M580.12,246.05V172.25H582.56V246.05z"/><path d="M582.56,246.05V172.25H585V246.05z"/><path d="M585,246.05V172.25H587.44V246.05z"/><path d="M587.44,246.05V172.25H589.88V246.05z"/><path d="M589.88,246.05V171.86H592.32V246.05z"/><path d="M592.32,246.05V171.86H594.76V246.05z"/><path d="M594.76,246.05V171.86H597.2V246.05z"/><path d="M597.2,246.05V171.86H599.64V246.05z"/><path d="M599.64,246.05V171.86H602.09V246.05z"/><path d="M602.09,246.05V171.86H604.53V246.05z"/><path d="M604.53,246.05V171.86H606.97V246.05z"/><path d="M606.97,246.05V171.46H609.41V246.05z"/><path d="M609.41,246.05V171.46H611.85V246.05z"/><path d="M611.85,246.05V171.06H614.29V246.05z"/><path d="M614.29,246.05V171.06H616.73V246.05z"/><path d="M616.73,246.05V171.06H619.17V246.05z"/><path d="M619.17,246.05V171.06H621.61V246.05z"/><path d="M621.61,246.05V171.06H624.05V246.05z"/><path d="M624.05,246.05V171.06H626.5V246.05z"/><path d="M626.5,246.05V171.06H628.94V246.05z"/><path d="M628.94,246.05V171.06H631.38V246.05z"/><path d="M631.38,246.05V171.06H633.82V246.05z"/><path d="M633.82,246.05V171.06H636.26V246.05z"/><path d="M636.26,246.05V171.06H638.7V246.05z"/></g>
<line x1="558.53" y1="246.05" x2="558.53" y2="166.7" stroke="#ffa500" stroke-opacity="0.5" stroke-width="2.2" stroke-dasharray="8.5 3" stroke-dashoffset="-0.6"/>
<line x1="416.83" y1="246.05" x2="416.83" y2="166.7" stroke="#008000" stroke-opacity="0.5" stroke-width="2.2" stroke-dasharray="8.5 3" stroke-dashoffset="-0.6"/>
</g>
<rect x="394.6" y="166.7" width="244.1" height="79.35" fill="none" stroke="#000" stroke-width="1.1"/>
<text x="383.3" y="249.85" font-size="11.2" text-anchor="end" fill="#000">0</text>
<text x="383.3" y="223.4" font-size="11.2" text-anchor="end" fill="#000">10</text>
<text x="383.3" y="196.95" font-size="11.2" text-anchor="end" fill="#000">20</text>
<text x="383.3" y="170.5" font-size="11.2" text-anchor="end" fill="#000">30</text>
<text x="649.1" y="249.85" font-size="11.2" fill="#000">0</text>
<text x="649.1" y="230.01" font-size="11.2" fill="#000">50</text>
<text x="649.1" y="210.18" font-size="11.2" fill="#000">100</text>
<text x="649.1" y="190.34" font-size="11.2" fill="#000">150</text>
<text x="649.1" y="170.5" font-size="11.2" fill="#000">200</text>
<text x="394.1" y="264.75" font-size="11.2" text-anchor="middle" fill="#000">0</text>
<text x="455.12" y="264.75" font-size="11.2" text-anchor="middle" fill="#000">5</text>
<text x="516.15" y="264.75" font-size="11.2" text-anchor="middle" fill="#000">10</text>
<text x="577.17" y="264.75" font-size="11.2" text-anchor="middle" fill="#000">15</text>
<text x="638.2" y="264.75" font-size="11.2" text-anchor="middle" fill="#000">20</text>
<path d="M394.6,246.05h-5.2M394.6,219.6h-5.2M394.6,193.15h-5.2M394.6,166.7h-5.2M638.7,246.05h5.2M638.7,226.21h5.2M638.7,206.38h5.2M638.7,186.54h5.2M638.7,166.7h5.2M394.6,246.05v5.2M455.62,246.05v5.2M516.65,246.05v5.2M577.67,246.05v5.2M638.7,246.05v5.2" stroke="#000" stroke-width="1.1" fill="none"/>
<text x="428.8" y="161.3" font-size="12" textLength="181" lengthAdjust="spacingAndGlyphs" fill="#000">PDWF: Corrected Hydrogenic AOs</text>
<text x="353.7" y="153.9" font-size="12.6" fill="#000">(c)</text>
<text x="493.05" y="281.95" font-size="11.5"><tspan font-style="italic" font-size="12.5">η</tspan><tspan font-size="8" dy="1.6" dx="-0.4">2</tspan><tspan dy="-1.6" dx="-0.3">(meV)</tspan></text>
<text transform="translate(363.8,209.15) rotate(-90)" font-size="12" text-anchor="middle" fill="#ff8080" textLength="28.5" lengthAdjust="spacingAndGlyphs">Count</text>
<text transform="translate(681.3,212.95) rotate(-90)" font-size="12" text-anchor="middle" fill="#8080ff" textLength="81.5" lengthAdjust="spacingAndGlyphs">Cumulative count</text>
<rect x="476" y="188.7" width="157.1" height="34.5" rx="2.4" fill="#fff" fill-opacity="0.8" stroke="#ccc" stroke-opacity="0.8" stroke-width="1"/>
<line x1="480.7" y1="197.15" x2="504.3" y2="197.15" stroke="#ffa500" stroke-opacity="0.5" stroke-width="2" stroke-dasharray="8.4 3.4"/>
<line x1="480.7" y1="213.4" x2="504.3" y2="213.4" stroke="#008000" stroke-opacity="0.5" stroke-width="2" stroke-dasharray="8.4 3.4"/>
<text x="513.4" y="201.4" font-size="11" textLength="24.5" lengthAdjust="spacingAndGlyphs" fill="#000">mean</text>
<text x="541.9" y="201.4" font-size="11" textLength="8" lengthAdjust="spacingAndGlyphs" fill="#000">=</text>
<text x="553.8" y="201.4" font-size="11" textLength="31" lengthAdjust="spacingAndGlyphs" fill="#000">13.431</text>
<text x="589" y="201.4" font-size="11" textLength="19.5" lengthAdjust="spacingAndGlyphs" fill="#000">meV</text>
<text x="513.4" y="217.7" font-size="11" textLength="33.7" lengthAdjust="spacingAndGlyphs" fill="#000">median</text>
<text x="550.9" y="217.7" font-size="11" textLength="8" lengthAdjust="spacingAndGlyphs" fill="#000">=</text>
<text x="563.3" y="217.7" font-size="11" textLength="25.5" lengthAdjust="spacingAndGlyphs" fill="#000">1.821</text>
<text x="592.6" y="217.7" font-size="11" textLength="20" lengthAdjust="spacingAndGlyphs" fill="#000">meV</text>
</g>
<g id="p3">
<clipPath id="cl3"><rect x="41.5" y="311.7" width="244.1" height="79.35"/></clipPath>
<g clip-path="url(#cl3)">
<path d="M41.5,391.05L41.5,351.37L43.94,351.37L43.94,380.47L46.38,380.47L46.38,377.82L48.82,377.82L48.82,383.11L51.26,383.11L51.26,391.05L53.7,391.05L53.7,383.11L56.15,383.11L56.15,391.05L58.59,391.05L58.59,388.4L61.03,388.4L61.03,380.47L63.47,380.47L63.47,391.05L65.91,391.05L65.91,388.4L68.35,388.4L68.35,383.11L70.79,383.11L70.79,388.4L73.23,388.4L73.23,385.76L75.67,385.76L75.67,377.82L78.12,377.82L78.11,380.47L80.56,380.47L80.56,383.11L83,383.11L83,380.47L85.44,380.47L85.44,380.47L87.88,380.47L87.88,372.53L90.32,372.53L90.32,391.05L92.76,391.05L92.76,385.76L95.2,385.76L95.2,385.76L97.64,385.76L97.64,377.82L100.08,377.82L100.08,383.11L102.53,383.11L102.53,388.4L104.97,388.4L104.97,383.11L107.41,383.11L107.41,375.18L109.85,375.18L109.85,383.11L112.29,383.11L112.29,372.53L114.73,372.53L114.73,380.47L117.17,380.47L117.17,375.18L119.61,375.18L119.61,388.4L122.05,388.4L122.05,385.76L124.49,385.76L124.49,385.76L126.94,385.76L126.93,380.47L129.38,380.47L129.38,380.47L131.82,380.47L131.82,377.82L134.26,377.82L134.26,369.89L136.7,369.89L136.7,380.47L139.14,380.47L139.14,388.4L141.58,388.4L141.58,391.05L144.02,391.05L144.02,391.05L146.46,391.05L146.46,388.4L148.9,388.4L148.9,380.47L151.34,380.47L151.34,388.4L153.79,388.4L153.79,385.76L156.23,385.76L156.23,385.76L158.67,385.76L158.67,388.4L161.11,388.4L161.11,383.11L163.55,383.11L163.55,385.76L165.99,385.76L165.99,383.11L168.43,383.11L168.43,391.05L170.87,391.05L170.87,388.4L173.31,388.4L173.31,388.4L175.75,388.4L175.75,388.4L178.2,388.4L178.2,391.05L180.64,391.05L180.64,391.05L183.08,391.05L183.08,391.05L185.52,391.05L185.52,391.05L187.96,391.05L187.96,388.4L190.4,388.4L190.4,388.4L192.84,388.4L192.84,388.4L195.28,388.4L195.28,391.05L197.72,391.05L197.72,388.4L200.16,388.4L200.16,391.05L202.61,391.05L202.61,377.82L205.05,377.82L205.05,388.4L207.49,388.4L207.49,385.76L209.93,385.76L209.93,385.76L212.37,385.76L212.37,391.05L214.81,391.05L214.81,388.4L217.25,388.4L217.25,391.05L219.69,391.05L219.69,391.05L222.13,391.05L222.13,391.05L224.57,391.05L224.57,391.05L227.02,391.05L227.02,388.4L229.46,388.4L229.46,388.4L231.9,388.4L231.9,391.05L234.34,391.05L234.34,391.05L236.78,391.05L236.78,391.05L239.22,391.05L239.22,388.4L241.66,388.4L241.66,391.05L244.1,391.05L244.1,385.76L246.54,385.76L246.54,391.05L248.98,391.05L248.98,388.4L251.43,388.4L251.43,391.05L253.87,391.05L253.87,391.05L256.31,391.05L256.31,388.4L258.75,388.4L258.75,385.76L261.19,385.76L261.19,391.05L263.63,391.05L263.63,391.05L266.07,391.05L266.07,391.05L268.51,391.05L268.51,391.05L270.95,391.05L270.95,391.05L273.39,391.05L273.39,391.05L275.84,391.05L275.84,388.4L278.28,388.4L278.28,391.05L280.72,391.05L280.72,391.05L283.16,391.05L283.16,391.05L285.6,391.05L285.6,391.05Z" fill="#f00" fill-opacity="0.5"/>
<path d="M41.5,391.05L41.5,385.1L43.94,385.1L43.94,383.51L46.38,383.51L46.38,381.53L48.82,381.53L48.82,380.34L51.26,380.34L51.26,380.34L53.7,380.34L53.7,379.15L56.15,379.15L56.15,379.15L58.59,379.15L58.59,378.75L61.03,378.75L61.03,377.16L63.47,377.16L63.47,377.16L65.91,377.16L65.91,376.77L68.35,376.77L68.35,375.58L70.79,375.58L70.79,375.18L73.23,375.18L73.23,374.39L75.67,374.39L75.67,372.4L78.12,372.4L78.11,370.82L80.56,370.82L80.56,369.63L83,369.63L83,368.04L85.44,368.04L85.44,366.45L87.88,366.45L87.88,363.67L90.32,363.67L90.32,363.67L92.76,363.67L92.76,362.88L95.2,362.88L95.2,362.09L97.64,362.09L97.64,360.1L100.08,360.1L100.08,358.91L102.53,358.91L102.53,358.52L104.97,358.52L104.97,357.33L107.41,357.33L107.41,354.95L109.85,354.95L109.85,353.76L112.29,353.76L112.29,350.98L114.73,350.98L114.73,349.39L117.17,349.39L117.17,347.01L119.61,347.01L119.61,346.61L122.05,346.61L122.05,345.82L124.49,345.82L124.49,345.03L126.94,345.03L126.93,343.44L129.38,343.44L129.38,341.85L131.82,341.85L131.82,339.87L134.26,339.87L134.26,336.7L136.7,336.7L136.7,335.11L139.14,335.11L139.14,334.71L141.58,334.71L141.58,334.71L144.02,334.71L144.02,334.71L146.46,334.71L146.46,334.31L148.9,334.31L148.9,332.73L151.34,332.73L151.34,332.33L153.79,332.33L153.79,331.54L156.23,331.54L156.23,330.74L158.67,330.74L158.67,330.35L161.11,330.35L161.11,329.16L163.55,329.16L163.55,328.36L165.99,328.36L165.99,327.17L168.43,327.17L168.43,327.17L170.87,327.17L170.87,326.78L173.31,326.78L173.31,326.38L175.75,326.38L175.75,325.98L178.2,325.98L178.2,325.98L180.64,325.98L180.64,325.98L183.08,325.98L183.08,325.98L185.52,325.98L185.52,325.98L187.96,325.98L187.96,325.59L190.4,325.59L190.4,325.19L192.84,325.19L192.84,324.79L195.28,324.79L195.28,324.79L197.72,324.79L197.72,324.4L200.16,324.4L200.16,324.4L202.61,324.4L202.61,322.41L205.05,322.41L205.05,322.02L207.49,322.02L207.49,321.22L209.93,321.22L209.93,320.43L212.37,320.43L212.37,320.43L214.81,320.43L214.81,320.03L217.25,320.03L217.25,320.03L219.69,320.03L219.69,320.03L222.13,320.03L222.13,320.03L224.57,320.03L224.57,320.03L227.02,320.03L227.02,319.63L229.46,319.63L229.46,319.24L231.9,319.24L231.9,319.24L234.34,319.24L234.34,319.24L236.78,319.24L236.78,319.24L239.22,319.24L239.22,318.84L241.66,318.84L241.66,318.84L244.1,318.84L244.1,318.05L246.54,318.05L246.54,318.05L248.98,318.05L248.98,317.65L251.43,317.65L251.43,317.65L253.87,317.65L253.87,317.65L256.31,317.65L256.31,317.25L258.75,317.25L258.75,316.46L261.19,316.46L261.19,316.46L263.63,316.46L263.63,316.46L266.07,316.46L266.07,316.46L268.51,316.46L268.51,316.46L270.95,316.46L270.95,316.46L273.39,316.46L273.39,316.46L275.84,316.46L275.84,316.06L278.28,316.06L278.28,316.06L280.72,316.06L280.72,316.06L283.16,316.06L283.16,316.06L285.6,316.06L285.6,391.05Z" fill="#00f" fill-opacity="0.2308"/>
<g fill="#00f" fill-opacity="0.35"><path d="M41.5,391.05V385.1H43.94V391.05z"/><path d="M43.94,391.05V383.51H46.38V391.05z"/><path d="M46.38,391.05V381.53H48.82V391.05z"/><path d="M48.82,391.05V380.34H51.26V391.05z"/><path d="M51.26,391.05V380.34H53.7V391.05z"/><path d="M53.7,391.05V379.15H56.15V391.05z"/><path d="M56.15,391.05V379.15H58.59V391.05z"/><path d="M58.59,391.05V378.75H61.03V391.05z"/><path d="M61.03,391.05V377.16H63.47V391.05z"/><path d="M63.47,391.05V377.16H65.91V391.05z"/><path d="M65.91,391.05V376.77H68.35V391.05z"/><path d="M68.35,391.05V375.58H70.79V391.05z"/><path d="M70.79,391.05V375.18H73.23V391.05z"/><path d="M73.23,391.05V374.39H75.67V391.05z"/><path d="M75.67,391.05V372.4H78.12V391.05z"/><path d="M78.11,391.05V370.82H80.56V391.05z"/><path d="M80.56,391.05V369.63H83V391.05z"/><path d="M83,391.05V368.04H85.44V391.05z"/><path d="M85.44,391.05V366.45H87.88V391.05z"/><path d="M87.88,391.05V363.67H90.32V391.05z"/><path d="M90.32,391.05V363.67H92.76V391.05z"/><path d="M92.76,391.05V362.88H95.2V391.05z"/><path d="M95.2,391.05V362.09H97.64V391.05z"/><path d="M97.64,391.05V360.1H100.08V391.05z"/><path d="M100.08,391.05V358.91H102.53V391.05z"/><path d="M102.53,391.05V358.52H104.97V391.05z"/><path d="M104.97,391.05V357.33H107.41V391.05z"/><path d="M107.41,391.05V354.95H109.85V391.05z"/><path d="M109.85,391.05V353.76H112.29V391.05z"/><path d="M112.29,391.05V350.98H114.73V391.05z"/><path d="M114.73,391.05V349.39H117.17V391.05z"/><path d="M117.17,391.05V347.01H119.61V391.05z"/><path d="M119.61,391.05V346.61H122.05V391.05z"/><path d="M122.05,391.05V345.82H124.49V391.05z"/><path d="M124.49,391.05V345.03H126.94V391.05z"/><path d="M126.93,391.05V343.44H129.38V391.05z"/><path d="M129.38,391.05V341.85H131.82V391.05z"/><path d="M131.82,391.05V339.87H134.26V391.05z"/><path d="M134.26,391.05V336.7H136.7V391.05z"/><path d="M136.7,391.05V335.11H139.14V391.05z"/><path d="M139.14,391.05V334.71H141.58V391.05z"/><path d="M141.58,391.05V334.71H144.02V391.05z"/><path d="M144.02,391.05V334.71H146.46V391.05z"/><path d="M146.46,391.05V334.31H148.9V391.05z"/><path d="M148.9,391.05V332.73H151.34V391.05z"/><path d="M151.34,391.05V332.33H153.79V391.05z"/><path d="M153.79,391.05V331.54H156.23V391.05z"/><path d="M156.23,391.05V330.74H158.67V391.05z"/><path d="M158.67,391.05V330.35H161.11V391.05z"/><path d="M161.11,391.05V329.16H163.55V391.05z"/><path d="M163.55,391.05V328.36H165.99V391.05z"/><path d="M165.99,391.05V327.17H168.43V391.05z"/><path d="M168.43,391.05V327.17H170.87V391.05z"/><path d="M170.87,391.05V326.78H173.31V391.05z"/><path d="M173.31,391.05V326.38H175.75V391.05z"/><path d="M175.75,391.05V325.98H178.2V391.05z"/><path d="M178.2,391.05V325.98H180.64V391.05z"/><path d="M180.64,391.05V325.98H183.08V391.05z"/><path d="M183.08,391.05V325.98H185.52V391.05z"/><path d="M185.52,391.05V325.98H187.96V391.05z"/><path d="M187.96,391.05V325.59H190.4V391.05z"/><path d="M190.4,391.05V325.19H192.84V391.05z"/><path d="M192.84,391.05V324.79H195.28V391.05z"/><path d="M195.28,391.05V324.79H197.72V391.05z"/><path d="M197.72,391.05V324.4H200.16V391.05z"/><path d="M200.16,391.05V324.4H202.61V391.05z"/><path d="M202.61,391.05V322.41H205.05V391.05z"/><path d="M205.05,391.05V322.02H207.49V391.05z"/><path d="M207.49,391.05V321.22H209.93V391.05z"/><path d="M209.93,391.05V320.43H212.37V391.05z"/><path d="M212.37,391.05V320.43H214.81V391.05z"/><path d="M214.81,391.05V320.03H217.25V391.05z"/><path d="M217.25,391.05V320.03H219.69V391.05z"/><path d="M219.69,391.05V320.03H222.13V391.05z"/><path d="M222.13,391.05V320.03H224.57V391.05z"/><path d="M224.57,391.05V320.03H227.02V391.05z"/><path d="M227.02,391.05V319.63H229.46V391.05z"/><path d="M229.46,391.05V319.24H231.9V391.05z"/><path d="M231.9,391.05V319.24H234.34V391.05z"/><path d="M234.34,391.05V319.24H236.78V391.05z"/><path d="M236.78,391.05V319.24H239.22V391.05z"/><path d="M239.22,391.05V318.84H241.66V391.05z"/><path d="M241.66,391.05V318.84H244.1V391.05z"/><path d="M244.1,391.05V318.05H246.54V391.05z"/><path d="M246.54,391.05V318.05H248.98V391.05z"/><path d="M248.98,391.05V317.65H251.43V391.05z"/><path d="M251.43,391.05V317.65H253.87V391.05z"/><path d="M253.87,391.05V317.65H256.31V391.05z"/><path d="M256.31,391.05V317.25H258.75V391.05z"/><path d="M258.75,391.05V316.46H261.19V391.05z"/><path d="M261.19,391.05V316.46H263.63V391.05z"/><path d="M263.63,391.05V316.46H266.07V391.05z"/><path d="M266.07,391.05V316.46H268.51V391.05z"/><path d="M268.51,391.05V316.46H270.95V391.05z"/><path d="M270.95,391.05V316.46H273.39V391.05z"/><path d="M273.39,391.05V316.46H275.84V391.05z"/><path d="M275.84,391.05V316.06H278.28V391.05z"/><path d="M278.28,391.05V316.06H280.72V391.05z"/><path d="M280.72,391.05V316.06H283.16V391.05z"/><path d="M283.16,391.05V316.06H285.6V391.05z"/></g>
<line x1="127.47" y1="391.05" x2="127.47" y2="311.7" stroke="#ffa500" stroke-opacity="0.5" stroke-width="2.2" stroke-dasharray="8.5 3" stroke-dashoffset="-0.6"/>
<line x1="114.34" y1="391.05" x2="114.34" y2="311.7" stroke="#008000" stroke-opacity="0.5" stroke-width="2.2" stroke-dasharray="8.5 3" stroke-dashoffset="-0.6"/>
</g>
<rect x="41.5" y="311.7" width="244.1" height="79.35" fill="none" stroke="#000" stroke-width="1.1"/>
<text x="30.2" y="394.85" font-size="11.2" text-anchor="end" fill="#000">0</text>
<text x="30.2" y="368.4" font-size="11.2" text-anchor="end" fill="#000">10</text>
<text x="30.2" y="341.95" font-size="11.2" text-anchor="end" fill="#000">20</text>
<text x="30.2" y="315.5" font-size="11.2" text-anchor="end" fill="#000">30</text>
<text x="296" y="394.85" font-size="11.2" fill="#000">0</text>
<text x="296" y="375.01" font-size="11.2" fill="#000">50</text>
<text x="296" y="355.17" font-size="11.2" fill="#000">100</text>
<text x="296" y="335.34" font-size="11.2" fill="#000">150</text>
<text x="296" y="315.5" font-size="11.2" fill="#000">200</text>
<text x="41" y="409.75" font-size="11.2" text-anchor="middle" fill="#000">0</text>
<text x="102.03" y="409.75" font-size="11.2" text-anchor="middle" fill="#000">5</text>
<text x="163.05" y="409.75" font-size="11.2" text-anchor="middle" fill="#000">10</text>
<text x="224.07" y="409.75" font-size="11.2" text-anchor="middle" fill="#000">15</text>
<text x="285.1" y="409.75" font-size="11.2" text-anchor="middle" fill="#000">20</text>
<path d="M41.5,391.05h-5.2M41.5,364.6h-5.2M41.5,338.15h-5.2M41.5,311.7h-5.2M285.6,391.05h5.2M285.6,371.21h5.2M285.6,351.37h5.2M285.6,331.54h5.2M285.6,311.7h5.2M41.5,391.05v5.2M102.53,391.05v5.2M163.55,391.05v5.2M224.57,391.05v5.2M285.6,391.05v5.2" stroke="#000" stroke-width="1.1" fill="none"/>
<text x="88.7" y="306.3" font-size="12" textLength="154.5" lengthAdjust="spacingAndGlyphs" fill="#000">ED: PAOs + Hydrogenic AOs</text>
<text x="0.6" y="298.9" font-size="12.6" fill="#000">(d)</text>
<text x="139.95" y="426.95" font-size="11.5"><tspan font-style="italic" font-size="12.5">η</tspan><tspan font-size="8" dy="1.6" dx="-0.4">2</tspan><tspan dy="-1.6" dx="-0.3">(meV)</tspan></text>
<text transform="translate(10.7,354.15) rotate(-90)" font-size="12" text-anchor="middle" fill="#ff8080" textLength="28.5" lengthAdjust="spacingAndGlyphs">Count</text>
<text transform="translate(328.2,357.95) rotate(-90)" font-size="12" text-anchor="middle" fill="#8080ff" textLength="81.5" lengthAdjust="spacingAndGlyphs">Cumulative count</text>
<rect x="123" y="333.7" width="157" height="34.5" rx="2.4" fill="#fff" fill-opacity="0.8" stroke="#ccc" stroke-opacity="0.8" stroke-width="1"/>
<line x1="127.7" y1="342.15" x2="151.3" y2="342.15" stroke="#ffa500" stroke-opacity="0.5" stroke-width="2" stroke-dasharray="8.4 3.4"/>
<line x1="127.7" y1="358.4" x2="151.3" y2="358.4" stroke="#008000" stroke-opacity="0.5" stroke-width="2" stroke-dasharray="8.4 3.4"/>
<text x="160.4" y="346.4" font-size="11" textLength="24.5" lengthAdjust="spacingAndGlyphs" fill="#000">mean</text>
<text x="188.9" y="346.4" font-size="11" textLength="8" lengthAdjust="spacingAndGlyphs" fill="#000">=</text>
<text x="200.8" y="346.4" font-size="11" textLength="25.5" lengthAdjust="spacingAndGlyphs" fill="#000">7.044</text>
<text x="230.5" y="346.4" font-size="11" textLength="19.5" lengthAdjust="spacingAndGlyphs" fill="#000">meV</text>
<text x="160.4" y="362.7" font-size="11" textLength="33.7" lengthAdjust="spacingAndGlyphs" fill="#000">median</text>
<text x="197.9" y="362.7" font-size="11" textLength="8" lengthAdjust="spacingAndGlyphs" fill="#000">=</text>
<text x="210.3" y="362.7" font-size="11" textLength="25.5" lengthAdjust="spacingAndGlyphs" fill="#000">5.968</text>
<text x="239.6" y="362.7" font-size="11" textLength="20" lengthAdjust="spacingAndGlyphs" fill="#000">meV</text>
</g>
<g id="p4">
<clipPath id="cl4"><rect x="394.6" y="311.7" width="244.1" height="79.35"/></clipPath>
<g clip-path="url(#cl4)">
<path d="M394.6,391.05L394.6,367.24L397.04,367.24L397.04,346.08L399.48,346.08L399.48,346.08L401.92,346.08L401.92,348.73L404.36,348.73L404.36,354.02L406.81,354.02L406.81,346.08L409.25,346.08L409.25,346.08L411.69,346.08L411.69,369.89L414.13,369.89L414.13,372.53L416.57,372.53L416.57,380.47L419.01,380.47L419.01,385.76L421.45,385.76L421.45,383.11L423.89,383.11L423.89,383.11L426.33,383.11L426.33,380.47L428.77,380.47L428.77,372.53L431.21,372.53L431.22,380.47L433.66,380.47L433.66,391.05L436.1,391.05L436.1,383.11L438.54,383.11L438.54,375.18L440.98,375.18L440.98,385.76L443.42,385.76L443.42,391.05L445.86,391.05L445.86,388.4L448.3,388.4L448.3,391.05L450.74,391.05L450.74,380.47L453.18,380.47L453.18,391.05L455.62,391.05L455.62,388.4L458.07,388.4L458.07,388.4L460.51,388.4L460.51,388.4L462.95,388.4L462.95,391.05L465.39,391.05L465.39,391.05L467.83,391.05L467.83,391.05L470.27,391.05L470.27,391.05L472.71,391.05L472.71,388.4L475.15,388.4L475.15,388.4L477.59,388.4L477.59,385.76L480.04,385.76L480.04,388.4L482.48,388.4L482.48,388.4L484.92,388.4L484.92,388.4L487.36,388.4L487.36,388.4L489.8,388.4L489.8,391.05L492.24,391.05L492.24,388.4L494.68,388.4L494.68,385.76L497.12,385.76L497.12,391.05L499.56,391.05L499.56,391.05L502,391.05L502,391.05L504.44,391.05L504.45,388.4L506.89,388.4L506.89,388.4L509.33,388.4L509.33,388.4L511.77,388.4L511.77,385.76L514.21,385.76L514.21,388.4L516.65,388.4L516.65,388.4L519.09,388.4L519.09,388.4L521.53,388.4L521.53,388.4L523.97,388.4L523.97,391.05L526.41,391.05L526.41,391.05L528.86,391.05L528.86,388.4L531.3,388.4L531.3,391.05L533.74,391.05L533.74,391.05L536.18,391.05L536.18,391.05L538.62,391.05L538.62,391.05L541.06,391.05L541.06,388.4L543.5,388.4L543.5,391.05L545.94,391.05L545.94,391.05L548.38,391.05L548.38,388.4L550.82,388.4L550.82,391.05L553.27,391.05L553.26,391.05L555.71,391.05L555.71,388.4L558.15,388.4L558.15,388.4L560.59,388.4L560.59,391.05L563.03,391.05L563.03,391.05L565.47,391.05L565.47,391.05L567.91,391.05L567.91,391.05L570.35,391.05L570.35,391.05L572.79,391.05L572.79,391.05L575.23,391.05L575.23,391.05L577.68,391.05L577.67,391.05L580.12,391.05L580.12,391.05L582.56,391.05L582.56,385.76L585,385.76L585,391.05L587.44,391.05L587.44,391.05L589.88,391.05L589.88,391.05L592.32,391.05L592.32,388.4L594.76,388.4L594.76,391.05L597.2,391.05L597.2,391.05L599.64,391.05L599.64,391.05L602.09,391.05L602.09,391.05L604.53,391.05L604.53,388.4L606.97,388.4L606.97,391.05L609.41,391.05L609.41,391.05L611.85,391.05L611.85,391.05L614.29,391.05L614.29,391.05L616.73,391.05L616.73,391.05L619.17,391.05L619.17,391.05L621.61,391.05L621.61,391.05L624.05,391.05L624.05,391.05L626.5,391.05L626.5,391.05L628.94,391.05L628.94,391.05L631.38,391.05L631.38,391.05L633.82,391.05L633.82,391.05L636.26,391.05L636.26,391.05L638.7,391.05L638.7,391.05Z" fill="#f00" fill-opacity="0.5"/>
<path d="M394.6,391.05L394.6,387.48L397.04,387.48L397.04,380.73L399.48,380.73L399.48,373.99L401.92,373.99L401.92,367.64L404.36,367.64L404.36,362.09L406.81,362.09L406.81,355.34L409.25,355.34L409.25,348.6L411.69,348.6L411.69,345.42L414.13,345.42L414.13,342.65L416.57,342.65L416.57,341.06L419.01,341.06L419.01,340.27L421.45,340.27L421.45,339.08L423.89,339.08L423.89,337.89L426.33,337.89L426.33,336.3L428.77,336.3L428.77,333.52L431.21,333.52L431.22,331.93L433.66,331.93L433.66,331.93L436.1,331.93L436.1,330.74L438.54,330.74L438.54,328.36L440.98,328.36L440.98,327.57L443.42,327.57L443.42,327.57L445.86,327.57L445.86,327.17L448.3,327.17L448.3,327.17L450.74,327.17L450.74,325.59L453.18,325.59L453.18,325.59L455.62,325.59L455.62,325.19L458.07,325.19L458.07,324.79L460.51,324.79L460.51,324.4L462.95,324.4L462.95,324.4L465.39,324.4L465.39,324.4L467.83,324.4L467.83,324.4L470.27,324.4L470.27,324.4L472.71,324.4L472.71,324L475.15,324L475.15,323.6L477.59,323.6L477.59,322.81L480.04,322.81L480.04,322.41L482.48,322.41L482.48,322.02L484.92,322.02L484.92,321.62L487.36,321.62L487.36,321.22L489.8,321.22L489.8,321.22L492.24,321.22L492.24,320.83L494.68,320.83L494.68,320.03L497.12,320.03L497.12,320.03L499.56,320.03L499.56,320.03L502,320.03L502,320.03L504.44,320.03L504.45,319.63L506.89,319.63L506.89,319.24L509.33,319.24L509.33,318.84L511.77,318.84L511.77,318.05L514.21,318.05L514.21,317.65L516.65,317.65L516.65,317.25L519.09,317.25L519.09,316.86L521.53,316.86L521.53,316.46L523.97,316.46L523.97,316.46L526.41,316.46L526.41,316.46L528.86,316.46L528.86,316.06L531.3,316.06L531.3,316.06L533.74,316.06L533.74,316.06L536.18,316.06L536.18,316.06L538.62,316.06L538.62,316.06L541.06,316.06L541.06,315.67L543.5,315.67L543.5,315.67L545.94,315.67L545.94,315.67L548.38,315.67L548.38,315.27L550.82,315.27L550.82,315.27L553.27,315.27L553.26,315.27L555.71,315.27L555.71,314.87L558.15,314.87L558.15,314.48L560.59,314.48L560.59,314.48L563.03,314.48L563.03,314.48L565.47,314.48L565.47,314.48L567.91,314.48L567.91,314.48L570.35,314.48L570.35,314.48L572.79,314.48L572.79,314.48L575.23,314.48L575.23,314.48L577.68,314.48L577.67,314.48L580.12,314.48L580.12,314.48L582.56,314.48L582.56,313.68L585,313.68L585,313.68L587.44,313.68L587.44,313.68L589.88,313.68L589.88,313.68L592.32,313.68L592.32,313.29L594.76,313.29L594.76,313.29L597.2,313.29L597.2,313.29L599.64,313.29L599.64,313.29L602.09,313.29L602.09,313.29L604.53,313.29L604.53,312.89L606.97,312.89L606.97,312.89L609.41,312.89L609.41,312.89L611.85,312.89L611.85,312.89L614.29,312.89L614.29,312.89L616.73,312.89L616.73,312.89L619.17,312.89L619.17,312.89L621.61,312.89L621.61,312.89L624.05,312.89L624.05,312.89L626.5,312.89L626.5,312.89L628.94,312.89L628.94,312.89L631.38,312.89L631.38,312.89L633.82,312.89L633.82,312.89L636.26,312.89L636.26,312.89L638.7,312.89L638.7,391.05Z" fill="#00f" fill-opacity="0.2308"/>
<g fill="#00f" fill-opacity="0.35"><path d="M394.6,391.05V387.48H397.04V391.05z"/><path d="M397.04,391.05V380.73H399.48V391.05z"/><path d="M399.48,391.05V373.99H401.92V391.05z"/><path d="M401.92,391.05V367.64H404.36V391.05z"/><path d="M404.36,391.05V362.09H406.81V391.05z"/><path d="M406.81,391.05V355.34H409.25V391.05z"/><path d="M409.25,391.05V348.6H411.69V391.05z"/><path d="M411.69,391.05V345.42H414.13V391.05z"/><path d="M414.13,391.05V342.65H416.57V391.05z"/><path d="M416.57,391.05V341.06H419.01V391.05z"/><path d="M419.01,391.05V340.27H421.45V391.05z"/><path d="M421.45,391.05V339.08H423.89V391.05z"/><path d="M423.89,391.05V337.89H426.33V391.05z"/><path d="M426.33,391.05V336.3H428.77V391.05z"/><path d="M428.77,391.05V333.52H431.21V391.05z"/><path d="M431.22,391.05V331.93H433.66V391.05z"/><path d="M433.66,391.05V331.93H436.1V391.05z"/><path d="M436.1,391.05V330.74H438.54V391.05z"/><path d="M438.54,391.05V328.36H440.98V391.05z"/><path d="M440.98,391.05V327.57H443.42V391.05z"/><path d="M443.42,391.05V327.57H445.86V391.05z"/><path d="M445.86,391.05V327.17H448.3V391.05z"/><path d="M448.3,391.05V327.17H450.74V391.05z"/><path d="M450.74,391.05V325.59H453.18V391.05z"/><path d="M453.18,391.05V325.59H455.62V391.05z"/><path d="M455.62,391.05V325.19H458.07V391.05z"/><path d="M458.07,391.05V324.79H460.51V391.05z"/><path d="M460.51,391.05V324.4H462.95V391.05z"/><path d="M462.95,391.05V324.4H465.39V391.05z"/><path d="M465.39,391.05V324.4H467.83V391.05z"/><path d="M467.83,391.05V324.4H470.27V391.05z"/><path d="M470.27,391.05V324.4H472.71V391.05z"/><path d="M472.71,391.05V324H475.15V391.05z"/><path d="M475.15,391.05V323.6H477.59V391.05z"/><path d="M477.59,391.05V322.81H480.04V391.05z"/><path d="M480.04,391.05V322.41H482.48V391.05z"/><path d="M482.48,391.05V322.02H484.92V391.05z"/><path d="M484.92,391.05V321.62H487.36V391.05z"/><path d="M487.36,391.05V321.22H489.8V391.05z"/><path d="M489.8,391.05V321.22H492.24V391.05z"/><path d="M492.24,391.05V320.83H494.68V391.05z"/><path d="M494.68,391.05V320.03H497.12V391.05z"/><path d="M497.12,391.05V320.03H499.56V391.05z"/><path d="M499.56,391.05V320.03H502V391.05z"/><path d="M502,391.05V320.03H504.44V391.05z"/><path d="M504.45,391.05V319.63H506.89V391.05z"/><path d="M506.89,391.05V319.24H509.33V391.05z"/><path d="M509.33,391.05V318.84H511.77V391.05z"/><path d="M511.77,391.05V318.05H514.21V391.05z"/><path d="M514.21,391.05V317.65H516.65V391.05z"/><path d="M516.65,391.05V317.25H519.09V391.05z"/><path d="M519.09,391.05V316.86H521.53V391.05z"/><path d="M521.53,391.05V316.46H523.97V391.05z"/><path d="M523.97,391.05V316.46H526.41V391.05z"/><path d="M526.41,391.05V316.46H528.86V391.05z"/><path d="M528.86,391.05V316.06H531.3V391.05z"/><path d="M531.3,391.05V316.06H533.74V391.05z"/><path d="M533.74,391.05V316.06H536.18V391.05z"/><path d="M536.18,391.05V316.06H538.62V391.05z"/><path d="M538.62,391.05V316.06H541.06V391.05z"/><path d="M541.06,391.05V315.67H543.5V391.05z"/><path d="M543.5,391.05V315.67H545.94V391.05z"/><path d="M545.94,391.05V315.67H548.38V391.05z"/><path d="M548.38,391.05V315.27H550.82V391.05z"/><path d="M550.82,391.05V315.27H553.27V391.05z"/><path d="M553.26,391.05V315.27H555.71V391.05z"/><path d="M555.71,391.05V314.87H558.15V391.05z"/><path d="M558.15,391.05V314.48H560.59V391.05z"/><path d="M560.59,391.05V314.48H563.03V391.05z"/><path d="M563.03,391.05V314.48H565.47V391.05z"/><path d="M565.47,391.05V314.48H567.91V391.05z"/><path d="M567.91,391.05V314.48H570.35V391.05z"/><path d="M570.35,391.05V314.48H572.79V391.05z"/><path d="M572.79,391.05V314.48H575.23V391.05z"/><path d="M575.23,391.05V314.48H577.68V391.05z"/><path d="M577.67,391.05V314.48H580.12V391.05z"/><path d="M580.12,391.05V314.48H582.56V391.05z"/><path d="M582.56,391.05V313.68H585V391.05z"/><path d="M585,391.05V313.68H587.44V391.05z"/><path d="M587.44,391.05V313.68H589.88V391.05z"/><path d="M589.88,391.05V313.68H592.32V391.05z"/><path d="M592.32,391.05V313.29H594.76V391.05z"/><path d="M594.76,391.05V313.29H597.2V391.05z"/><path d="M597.2,391.05V313.29H599.64V391.05z"/><path d="M599.64,391.05V313.29H602.09V391.05z"/><path d="M602.09,391.05V313.29H604.53V391.05z"/><path d="M604.53,391.05V312.89H606.97V391.05z"/><path d="M606.97,391.05V312.89H609.41V391.05z"/><path d="M609.41,391.05V312.89H611.85V391.05z"/><path d="M611.85,391.05V312.89H614.29V391.05z"/><path d="M614.29,391.05V312.89H616.73V391.05z"/><path d="M616.73,391.05V312.89H619.17V391.05z"/><path d="M619.17,391.05V312.89H621.61V391.05z"/><path d="M621.61,391.05V312.89H624.05V391.05z"/><path d="M624.05,391.05V312.89H626.5V391.05z"/><path d="M626.5,391.05V312.89H628.94V391.05z"/><path d="M628.94,391.05V312.89H631.38V391.05z"/><path d="M631.38,391.05V312.89H633.82V391.05z"/><path d="M633.82,391.05V312.89H636.26V391.05z"/><path d="M636.26,391.05V312.89H638.7V391.05z"/></g>
<line x1="433.18" y1="391.05" x2="433.18" y2="311.7" stroke="#ffa500" stroke-opacity="0.5" stroke-width="2.2" stroke-dasharray="8.5 3" stroke-dashoffset="-0.6"/>
<line x1="410.59" y1="391.05" x2="410.59" y2="311.7" stroke="#008000" stroke-opacity="0.5" stroke-width="2.2" stroke-dasharray="8.5 3" stroke-dashoffset="-0.6"/>
</g>
<rect x="394.6" y="311.7" width="244.1" height="79.35" fill="none" stroke="#000" stroke-width="1.1"/>
<text x="383.3" y="394.85" font-size="11.2" text-anchor="end" fill="#000">0</text>
<text x="383.3" y="368.4" font-size="11.2" text-anchor="end" fill="#000">10</text>
<text x="383.3" y="341.95" font-size="11.2" text-anchor="end" fill="#000">20</text>
<text x="383.3" y="315.5" font-size="11.2" text-anchor="end" fill="#000">30</text>
<text x="649.1" y="394.85" font-size="11.2" fill="#000">0</text>
<text x="649.1" y="375.01" font-size="11.2" fill="#000">50</text>
<text x="649.1" y="355.17" font-size="11.2" fill="#000">100</text>
<text x="649.1" y="335.34" font-size="11.2" fill="#000">150</text>
<text x="649.1" y="315.5" font-size="11.2" fill="#000">200</text>
<text x="394.1" y="409.75" font-size="11.2" text-anchor="middle" fill="#000">0</text>
<text x="455.12" y="409.75" font-size="11.2" text-anchor="middle" fill="#000">5</text>
<text x="516.15" y="409.75" font-size="11.2" text-anchor="middle" fill="#000">10</text>
<text x="577.17" y="409.75" font-size="11.2" text-anchor="middle" fill="#000">15</text>
<text x="638.2" y="409.75" font-size="11.2" text-anchor="middle" fill="#000">20</text>
<path d="M394.6,391.05h-5.2M394.6,364.6h-5.2M394.6,338.15h-5.2M394.6,311.7h-5.2M638.7,391.05h5.2M638.7,371.21h5.2M638.7,351.37h5.2M638.7,331.54h5.2M638.7,311.7h5.2M394.6,391.05v5.2M455.62,391.05v5.2M516.65,391.05v5.2M577.67,391.05v5.2M638.7,391.05v5.2" stroke="#000" stroke-width="1.1" fill="none"/>
<text x="432.3" y="306.3" font-size="12" textLength="174" lengthAdjust="spacingAndGlyphs" fill="#000">PDWF: PAOs + Hydrogenic AOs</text>
<text x="353.7" y="298.9" font-size="12.6" fill="#000">(e)</text>
<text x="493.05" y="426.95" font-size="11.5"><tspan font-style="italic" font-size="12.5">η</tspan><tspan font-size="8" dy="1.6" dx="-0.4">2</tspan><tspan dy="-1.6" dx="-0.3">(meV)</tspan></text>
<text transform="translate(363.8,354.15) rotate(-90)" font-size="12" text-anchor="middle" fill="#ff8080" textLength="28.5" lengthAdjust="spacingAndGlyphs">Count</text>
<text transform="translate(681.3,357.95) rotate(-90)" font-size="12" text-anchor="middle" fill="#8080ff" textLength="81.5" lengthAdjust="spacingAndGlyphs">Cumulative count</text>
<rect x="476" y="333.7" width="157.1" height="34.5" rx="2.4" fill="#fff" fill-opacity="0.8" stroke="#ccc" stroke-opacity="0.8" stroke-width="1"/>
<line x1="480.7" y1="342.15" x2="504.3" y2="342.15" stroke="#ffa500" stroke-opacity="0.5" stroke-width="2" stroke-dasharray="8.4 3.4"/>
<line x1="480.7" y1="358.4" x2="504.3" y2="358.4" stroke="#008000" stroke-opacity="0.5" stroke-width="2" stroke-dasharray="8.4 3.4"/>
<text x="513.4" y="346.4" font-size="11" textLength="24.5" lengthAdjust="spacingAndGlyphs" fill="#000">mean</text>
<text x="541.9" y="346.4" font-size="11" textLength="8" lengthAdjust="spacingAndGlyphs" fill="#000">=</text>
<text x="553.8" y="346.4" font-size="11" textLength="25.5" lengthAdjust="spacingAndGlyphs" fill="#000">3.161</text>
<text x="583.5" y="346.4" font-size="11" textLength="19.5" lengthAdjust="spacingAndGlyphs" fill="#000">meV</text>
<text x="513.4" y="362.7" font-size="11" textLength="33.7" lengthAdjust="spacingAndGlyphs" fill="#000">median</text>
<text x="550.9" y="362.7" font-size="11" textLength="8" lengthAdjust="spacingAndGlyphs" fill="#000">=</text>
<text x="563.3" y="362.7" font-size="11" textLength="25.5" lengthAdjust="spacingAndGlyphs" fill="#000">1.310</text>
<text x="592.6" y="362.7" font-size="11" textLength="20" lengthAdjust="spacingAndGlyphs" fill="#000">meV</text>
</g>
<g id="diagram">
<text x="367.9" y="30.95" font-size="12" textLength="169.6" lengthAdjust="spacingAndGlyphs" fill="#000">Using hydrogenic AOs with more</text>
<text x="376.7" y="42.55" font-size="12" textLength="151.4" lengthAdjust="spacingAndGlyphs" fill="#000">precise expressions and shape</text>
<text x="389.2" y="54.15" font-size="12" textLength="125.8" lengthAdjust="spacingAndGlyphs" fill="#000">parameters as projectors</text>
<text x="361.5" y="75.95" font-size="12" textLength="181.2" lengthAdjust="spacingAndGlyphs" fill="#000">Using PAOs from pseudopotentials,</text>
<text x="382.8" y="87.55" font-size="12" textLength="138" lengthAdjust="spacingAndGlyphs" fill="#000">and supplement them with</text>
<text x="376.7" y="99.15" font-size="12" textLength="151.4" lengthAdjust="spacingAndGlyphs" fill="#000">hydrogenic AOs as projectors</text>
<rect x="572.2" y="8.5" width="25" height="19.2" rx="4.2" fill="#e8e8e8" stroke="#000" stroke-width="1.4"/>
<text x="584.7" y="22" font-size="12" text-anchor="middle" fill="#000">a</text>
<rect x="572.2" y="50.9" width="25" height="19.2" rx="4.2" fill="#e8e8e8" stroke="#000" stroke-width="1.4"/>
<text x="584.7" y="64.4" font-size="12" text-anchor="middle" fill="#000">b</text>
<rect x="572.2" y="93" width="25" height="19.2" rx="4.2" fill="#e8e8e8" stroke="#000" stroke-width="1.4"/>
<text x="584.7" y="106.5" font-size="12" text-anchor="middle" fill="#000">d</text>
<rect x="656.9" y="50.9" width="25" height="19.2" rx="4.2" fill="#e8e8e8" stroke="#000" stroke-width="1.4"/>
<text x="669.4" y="64.4" font-size="12" text-anchor="middle" fill="#000">c</text>
<rect x="656.9" y="93" width="25" height="19.2" rx="4.2" fill="#e8e8e8" stroke="#000" stroke-width="1.4"/>
<text x="669.4" y="106.5" font-size="12" text-anchor="middle" fill="#000">e</text>
<path d="M564,18.8 C553,22 546,32 548.2,40 C549.5,46 552,51 556.5,54.3 L555,57.8 L568,56.6 L559.2,48.4 L560.3,51 C556,47 553.5,43 553,38 C552.5,31 557,25 564,22.9 Z" fill="#e8e8e8" stroke="#000" stroke-width="1.5" stroke-linejoin="miter"/>
<path d="M564,63.2 C553,66.4 546,76.4 548.2,84.4 C549.5,90.4 552,95.4 556.5,98.7 L555,102.2 L568,101 L559.2,92.8 L560.3,95.4 C556,91.4 553.5,87.4 553,82.4 C552.5,75.4 557,69.4 564,67.3 Z" fill="#e8e8e8" stroke="#000" stroke-width="1.5" stroke-linejoin="miter"/>
<path d="M610.6,58.7 L627.4,58.7 L627.4,55.4 L643.8,60.5 L627.4,65.6 L627.4,62.3 L610.6,62.3 Z" fill="#e8e8e8" stroke="#000" stroke-width="1.5" stroke-linejoin="miter"/>
<path d="M610.6,101.9 L627.4,101.9 L627.4,98.6 L643.8,103.7 L627.4,108.8 L627.4,105.5 L610.6,105.5 Z" fill="#e8e8e8" stroke="#000" stroke-width="1.5" stroke-linejoin="miter"/>
<text x="611" y="40.6" font-size="12" textLength="30.8" lengthAdjust="spacingAndGlyphs" fill="#000">Apply</text>
<text x="608.4" y="54.7" font-size="12" textLength="35.5" lengthAdjust="spacingAndGlyphs" fill="#000">PDWF</text>
<text x="611" y="83.9" font-size="12" textLength="30.8" lengthAdjust="spacingAndGlyphs" fill="#000">Apply</text>
<text x="608.4" y="98" font-size="12" textLength="35.5" lengthAdjust="spacingAndGlyphs" fill="#000">PDWF</text>
</g>
</svg>
</body></html>
